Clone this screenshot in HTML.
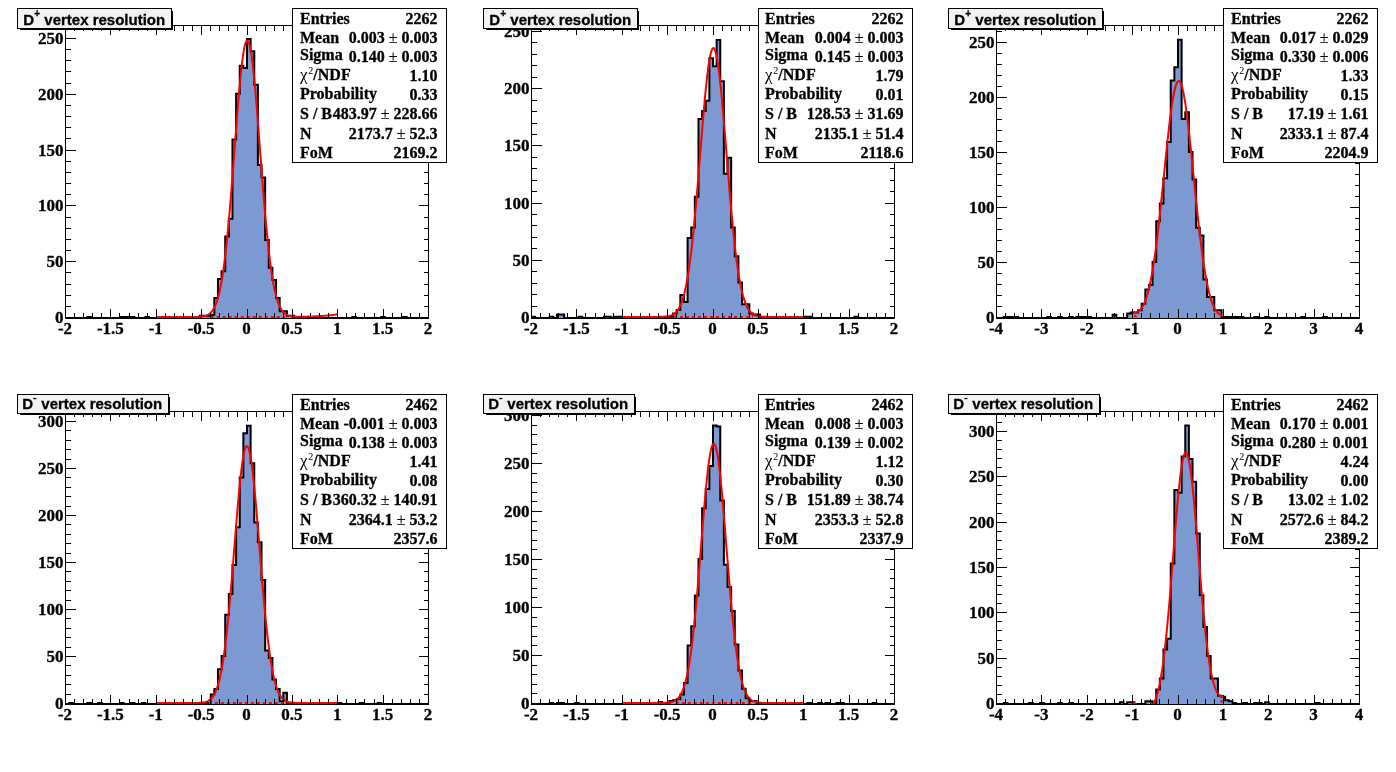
<!DOCTYPE html>
<html><head><meta charset="utf-8"><style>
html,body{margin:0;padding:0;background:#fff;width:1396px;height:772px;overflow:hidden}
svg{display:block;will-change:transform}
</style></head><body>
<svg width="1396" height="772" viewBox="0 0 1396 772">
<rect width="1396" height="772" fill="#fff"/>
<path d="M65.50,318.00 L65.50,318.00 L69.13,318.00 L69.13,318.00 L72.76,318.00 L72.76,318.00 L76.39,318.00 L76.39,318.00 L80.02,318.00 L80.02,318.00 L83.65,318.00 L83.65,318.00 L87.28,318.00 L87.28,316.88 L90.91,316.88 L90.91,318.00 L94.54,318.00 L94.54,318.00 L98.17,318.00 L98.17,318.00 L101.80,318.00 L101.80,318.00 L105.43,318.00 L105.43,318.00 L109.06,318.00 L109.06,318.00 L112.69,318.00 L112.69,318.00 L116.32,318.00 L116.32,318.00 L119.95,318.00 L119.95,316.88 L123.58,316.88 L123.58,316.88 L127.21,316.88 L127.21,316.88 L130.84,316.88 L130.84,316.88 L134.47,316.88 L134.47,318.00 L138.10,318.00 L138.10,318.00 L141.73,318.00 L141.73,318.00 L145.36,318.00 L145.36,316.88 L148.99,316.88 L148.99,318.00 L152.62,318.00 L152.62,318.00 L156.25,318.00 L156.25,318.00 L159.88,318.00 L159.88,318.00 L163.51,318.00 L163.51,318.00 L167.14,318.00 L167.14,318.00 L170.77,318.00 L170.77,318.00 L174.40,318.00 L174.40,318.00 L178.03,318.00 L178.03,318.00 L181.66,318.00 L181.66,318.00 L185.29,318.00 L185.29,316.88 L188.92,316.88 L188.92,318.00 L192.55,318.00 L192.55,318.00 L196.18,318.00 L196.18,318.00 L199.81,318.00 L199.81,315.77 L203.44,315.77 L203.44,315.77 L207.07,315.77 L207.07,315.77 L210.70,315.77 L210.70,314.65 L214.33,314.65 L214.33,297.91 L217.96,297.91 L217.96,278.94 L221.59,278.94 L221.59,271.13 L225.22,271.13 L225.22,236.53 L228.85,236.53 L228.85,218.68 L232.48,218.68 L232.48,139.44 L236.11,139.44 L236.11,93.68 L239.74,93.68 L239.74,65.78 L243.37,65.78 L243.37,68.02 L247.00,68.02 L247.00,39.00 L250.63,39.00 L250.63,51.28 L254.26,51.28 L254.26,84.76 L257.89,84.76 L257.89,165.11 L261.52,165.11 L261.52,177.38 L265.15,177.38 L265.15,239.88 L268.78,239.88 L268.78,267.78 L272.41,267.78 L272.41,280.06 L276.04,280.06 L276.04,297.91 L279.67,297.91 L279.67,311.30 L283.30,311.30 L283.30,311.30 L286.93,311.30 L286.93,315.77 L290.56,315.77 L290.56,315.77 L294.19,315.77 L294.19,316.88 L297.82,316.88 L297.82,318.00 L301.45,318.00 L301.45,318.00 L305.08,318.00 L305.08,318.00 L308.71,318.00 L308.71,318.00 L312.34,318.00 L312.34,318.00 L315.97,318.00 L315.97,318.00 L319.60,318.00 L319.60,318.00 L323.23,318.00 L323.23,318.00 L326.86,318.00 L326.86,318.00 L330.49,318.00 L330.49,318.00 L334.12,318.00 L334.12,318.00 L337.75,318.00 L337.75,318.00 L341.38,318.00 L341.38,318.00 L345.01,318.00 L345.01,318.00 L348.64,318.00 L348.64,318.00 L352.27,318.00 L352.27,316.88 L355.90,316.88 L355.90,318.00 L359.53,318.00 L359.53,318.00 L363.16,318.00 L363.16,318.00 L366.79,318.00 L366.79,318.00 L370.42,318.00 L370.42,318.00 L374.05,318.00 L374.05,318.00 L377.68,318.00 L377.68,318.00 L381.31,318.00 L381.31,316.88 L384.94,316.88 L384.94,318.00 L388.57,318.00 L388.57,318.00 L392.20,318.00 L392.20,318.00 L395.83,318.00 L395.83,318.00 L399.46,318.00 L399.46,318.00 L403.09,318.00 L403.09,316.88 L406.72,316.88 L406.72,318.00 L410.35,318.00 L410.35,318.00 L413.98,318.00 L413.98,318.00 L417.61,318.00 L417.61,318.00 L421.24,318.00 L421.24,318.00 L424.87,318.00 L424.87,318.00 L428.50,318.00 L428.50,318.00 Z" fill="#7d99d1" stroke="none"/>
<path d="M65.50,318.00 L69.13,318.00 L69.13,318.00 L72.76,318.00 L72.76,318.00 L76.39,318.00 L76.39,318.00 L80.02,318.00 L80.02,318.00 L83.65,318.00 L83.65,318.00 L87.28,318.00 L87.28,316.88 L90.91,316.88 L90.91,318.00 L94.54,318.00 L94.54,318.00 L98.17,318.00 L98.17,318.00 L101.80,318.00 L101.80,318.00 L105.43,318.00 L105.43,318.00 L109.06,318.00 L109.06,318.00 L112.69,318.00 L112.69,318.00 L116.32,318.00 L116.32,318.00 L119.95,318.00 L119.95,316.88 L123.58,316.88 L123.58,316.88 L127.21,316.88 L127.21,316.88 L130.84,316.88 L130.84,316.88 L134.47,316.88 L134.47,318.00 L138.10,318.00 L138.10,318.00 L141.73,318.00 L141.73,318.00 L145.36,318.00 L145.36,316.88 L148.99,316.88 L148.99,318.00 L152.62,318.00 L152.62,318.00 L156.25,318.00 L156.25,318.00 L159.88,318.00 L159.88,318.00 L163.51,318.00 L163.51,318.00 L167.14,318.00 L167.14,318.00 L170.77,318.00 L170.77,318.00 L174.40,318.00 L174.40,318.00 L178.03,318.00 L178.03,318.00 L181.66,318.00 L181.66,318.00 L185.29,318.00 L185.29,316.88 L188.92,316.88 L188.92,318.00 L192.55,318.00 L192.55,318.00 L196.18,318.00 L196.18,318.00 L199.81,318.00 L199.81,315.77 L203.44,315.77 L203.44,315.77 L207.07,315.77 L207.07,315.77 L210.70,315.77 L210.70,314.65 L214.33,314.65 L214.33,297.91 L217.96,297.91 L217.96,278.94 L221.59,278.94 L221.59,271.13 L225.22,271.13 L225.22,236.53 L228.85,236.53 L228.85,218.68 L232.48,218.68 L232.48,139.44 L236.11,139.44 L236.11,93.68 L239.74,93.68 L239.74,65.78 L243.37,65.78 L243.37,68.02 L247.00,68.02 L247.00,39.00 L250.63,39.00 L250.63,51.28 L254.26,51.28 L254.26,84.76 L257.89,84.76 L257.89,165.11 L261.52,165.11 L261.52,177.38 L265.15,177.38 L265.15,239.88 L268.78,239.88 L268.78,267.78 L272.41,267.78 L272.41,280.06 L276.04,280.06 L276.04,297.91 L279.67,297.91 L279.67,311.30 L283.30,311.30 L283.30,311.30 L286.93,311.30 L286.93,315.77 L290.56,315.77 L290.56,315.77 L294.19,315.77 L294.19,316.88 L297.82,316.88 L297.82,318.00 L301.45,318.00 L301.45,318.00 L305.08,318.00 L305.08,318.00 L308.71,318.00 L308.71,318.00 L312.34,318.00 L312.34,318.00 L315.97,318.00 L315.97,318.00 L319.60,318.00 L319.60,318.00 L323.23,318.00 L323.23,318.00 L326.86,318.00 L326.86,318.00 L330.49,318.00 L330.49,318.00 L334.12,318.00 L334.12,318.00 L337.75,318.00 L337.75,318.00 L341.38,318.00 L341.38,318.00 L345.01,318.00 L345.01,318.00 L348.64,318.00 L348.64,318.00 L352.27,318.00 L352.27,316.88 L355.90,316.88 L355.90,318.00 L359.53,318.00 L359.53,318.00 L363.16,318.00 L363.16,318.00 L366.79,318.00 L366.79,318.00 L370.42,318.00 L370.42,318.00 L374.05,318.00 L374.05,318.00 L377.68,318.00 L377.68,318.00 L381.31,318.00 L381.31,316.88 L384.94,316.88 L384.94,318.00 L388.57,318.00 L388.57,318.00 L392.20,318.00 L392.20,318.00 L395.83,318.00 L395.83,318.00 L399.46,318.00 L399.46,318.00 L403.09,318.00 L403.09,316.88 L406.72,316.88 L406.72,318.00 L410.35,318.00 L410.35,318.00 L413.98,318.00 L413.98,318.00 L417.61,318.00 L417.61,318.00 L421.24,318.00 L421.24,318.00 L424.87,318.00 L424.87,318.00 L428.50,318.00" fill="none" stroke="#000" stroke-width="2" stroke-linejoin="miter"/>
<clipPath id="c2"><rect x="65" y="25" width="364" height="293"/></clipPath>
<path d="M156.25,317.05 L156.86,317.05 L157.46,317.05 L158.06,317.05 L158.67,317.05 L159.27,317.05 L159.88,317.05 L160.49,317.05 L161.09,317.05 L161.69,317.05 L162.30,317.05 L162.90,317.05 L163.51,317.05 L164.12,317.05 L164.72,317.05 L165.32,317.05 L165.93,317.05 L166.53,317.05 L167.14,317.05 L167.75,317.05 L168.35,317.05 L168.96,317.05 L169.56,317.05 L170.16,317.05 L170.77,317.05 L171.38,317.05 L171.98,317.05 L172.58,317.05 L173.19,317.05 L173.80,317.05 L174.40,317.05 L175.00,317.05 L175.61,317.05 L176.22,317.05 L176.82,317.05 L177.43,317.05 L178.03,317.05 L178.63,317.05 L179.24,317.05 L179.84,317.05 L180.45,317.05 L181.06,317.05 L181.66,317.05 L182.26,317.05 L182.87,317.05 L183.48,317.05 L184.08,317.05 L184.69,317.05 L185.29,317.05 L185.89,317.05 L186.50,317.05 L187.11,317.05 L187.71,317.05 L188.31,317.05 L188.92,317.05 L189.53,317.04 L190.13,317.04 L190.73,317.04 L191.34,317.04 L191.94,317.03 L192.55,317.03 L193.16,317.02 L193.76,317.01 L194.36,317.01 L194.97,317.00 L195.57,316.98 L196.18,316.97 L196.78,316.95 L197.39,316.93 L198.00,316.90 L198.60,316.87 L199.21,316.84 L199.81,316.80 L200.42,316.75 L201.02,316.69 L201.62,316.62 L202.23,316.54 L202.83,316.44 L203.44,316.33 L204.04,316.21 L204.65,316.06 L205.25,315.89 L205.86,315.69 L206.47,315.46 L207.07,315.20 L207.68,314.90 L208.28,314.56 L208.89,314.17 L209.49,313.73 L210.09,313.23 L210.70,312.66 L211.31,312.03 L211.91,311.31 L212.52,310.50 L213.12,309.60 L213.72,308.59 L214.33,307.46 L214.93,306.21 L215.54,304.83 L216.15,303.30 L216.75,301.62 L217.35,299.77 L217.96,297.74 L218.56,295.52 L219.17,293.10 L219.78,290.47 L220.38,287.62 L220.99,284.54 L221.59,281.21 L222.19,277.63 L222.80,273.80 L223.41,269.70 L224.01,265.32 L224.62,260.67 L225.22,255.75 L225.82,250.54 L226.43,245.05 L227.03,239.29 L227.64,233.26 L228.25,226.96 L228.85,220.41 L229.45,213.62 L230.06,206.61 L230.66,199.38 L231.27,191.96 L231.88,184.38 L232.48,176.66 L233.09,168.82 L233.69,160.91 L234.29,152.94 L234.90,144.95 L235.50,136.99 L236.11,129.08 L236.72,121.27 L237.32,113.60 L237.92,106.11 L238.53,98.83 L239.13,91.82 L239.74,85.11 L240.34,78.74 L240.95,72.75 L241.56,67.17 L242.16,62.05 L242.77,57.41 L243.37,53.28 L243.98,49.70 L244.58,46.68 L245.19,44.25 L245.79,42.42 L246.39,41.20 L247.00,40.61 L247.61,40.64 L248.21,41.30 L248.81,42.57 L249.42,44.47 L250.02,46.96 L250.63,50.03 L251.24,53.67 L251.84,57.85 L252.44,62.54 L253.05,67.71 L253.66,73.32 L254.26,79.35 L254.87,85.76 L255.47,92.50 L256.08,99.54 L256.68,106.84 L257.28,114.35 L257.89,122.04 L258.50,129.86 L259.10,137.77 L259.70,145.74 L260.31,153.72 L260.91,161.69 L261.52,169.60 L262.12,177.42 L262.73,185.13 L263.33,192.70 L263.94,200.10 L264.55,207.30 L265.15,214.30 L265.75,221.06 L266.36,227.59 L266.96,233.86 L267.57,239.86 L268.18,245.59 L268.78,251.05 L269.38,256.23 L269.99,261.13 L270.59,265.75 L271.20,270.09 L271.81,274.16 L272.41,277.97 L273.01,281.52 L273.62,284.82 L274.23,287.88 L274.83,290.71 L275.44,293.31 L276.04,295.71 L276.64,297.91 L277.25,299.92 L277.86,301.75 L278.46,303.41 L279.07,304.92 L279.67,306.29 L280.27,307.52 L280.88,308.63 L281.49,309.62 L282.09,310.52 L282.70,311.31 L283.30,312.02 L283.90,312.64 L284.51,313.20 L285.12,313.69 L285.72,314.12 L286.33,314.50 L286.93,314.84 L287.53,315.12 L288.14,315.38 L288.75,315.60 L289.35,315.79 L289.96,315.95 L290.56,316.09 L291.16,316.21 L291.77,316.31 L292.38,316.40 L292.98,316.47 L293.59,316.53 L294.19,316.58 L294.79,316.62 L295.40,316.65 L296.00,316.68 L296.61,316.70 L297.22,316.72 L297.82,316.73 L298.42,316.74 L299.03,316.74 L299.63,316.74 L300.24,316.74 L300.85,316.74 L301.45,316.73 L302.05,316.73 L302.66,316.72 L303.26,316.71 L303.87,316.70 L304.48,316.69 L305.08,316.68 L305.68,316.66 L306.29,316.65 L306.89,316.63 L307.50,316.62 L308.11,316.60 L308.71,316.58 L309.31,316.56 L309.92,316.55 L310.52,316.53 L311.13,316.50 L311.74,316.48 L312.34,316.46 L312.94,316.44 L313.55,316.41 L314.16,316.39 L314.76,316.36 L315.37,316.34 L315.97,316.31 L316.57,316.28 L317.18,316.25 L317.79,316.22 L318.39,316.19 L319.00,316.15 L319.60,316.12 L320.20,316.08 L320.81,316.05 L321.42,316.01 L322.02,315.97 L322.62,315.93 L323.23,315.89 L323.83,315.85 L324.44,315.80 L325.05,315.76 L325.65,315.71 L326.25,315.66 L326.86,315.61 L327.47,315.56 L328.07,315.51 L328.68,315.45 L329.28,315.39 L329.88,315.33 L330.49,315.27 L331.10,315.21 L331.70,315.15 L332.31,315.08 L332.91,315.01 L333.51,314.94 L334.12,314.87 L334.73,314.79 L335.33,314.71 L335.94,314.63 L336.54,314.55 L337.14,314.46 L337.75,314.38" fill="none" stroke="#f00" stroke-width="2" clip-path="url(#c2)"/>
<path d="M210.70,317.05 L211.94,317.05 L213.18,317.05 L214.42,317.05 L215.66,317.05 L216.90,317.05 L218.14,317.05 L219.38,317.05 L220.62,317.05 L221.86,317.05 L223.10,317.05 L224.34,317.05 L225.58,317.05 L226.82,317.05 L228.06,317.05 L229.30,317.05 L230.54,317.05 L231.78,317.05 L233.02,317.05 L234.26,317.05 L235.50,317.05 L236.75,317.05 L237.99,317.05 L239.23,317.05 L240.47,317.05 L241.71,317.05 L242.95,317.05 L244.19,317.05 L245.43,317.05 L246.67,317.05 L247.91,317.05 L249.15,317.05 L250.39,317.05 L251.63,317.05 L252.87,317.05 L254.11,317.05 L255.35,317.05 L256.59,317.05 L257.83,317.05 L259.07,317.04 L260.31,317.04 L261.55,317.04 L262.79,317.04 L264.03,317.04 L265.27,317.04 L266.51,317.04 L267.75,317.03 L268.99,317.03 L270.23,317.03 L271.47,317.03 L272.71,317.02 L273.95,317.02 L275.19,317.01 L276.43,317.01 L277.67,317.01 L278.91,317.00 L280.15,316.99 L281.39,316.99 L282.63,316.98 L283.87,316.97 L285.12,316.97" fill="none" stroke="#f00" stroke-width="2" stroke-dasharray="3,3" clip-path="url(#c2)"/>
<rect x="65.5" y="25.5" width="363" height="293" fill="none" stroke="#000" stroke-width="1" shape-rendering="crispEdges"/>
<path d="M65.5,318.0 V309.0 M65.5,25.0 V35.0 M74.5,318.0 V313.0 M74.5,25.0 V31.0 M83.5,318.0 V313.0 M83.5,25.0 V31.0 M92.5,318.0 V313.0 M92.5,25.0 V31.0 M101.5,318.0 V313.0 M101.5,25.0 V31.0 M110.5,318.0 V309.0 M110.5,25.0 V35.0 M119.5,318.0 V313.0 M119.5,25.0 V31.0 M129.5,318.0 V313.0 M129.5,25.0 V31.0 M138.5,318.0 V313.0 M138.5,25.0 V31.0 M147.5,318.0 V313.0 M147.5,25.0 V31.0 M156.5,318.0 V309.0 M156.5,25.0 V35.0 M165.5,318.0 V313.0 M165.5,25.0 V31.0 M174.5,318.0 V313.0 M174.5,25.0 V31.0 M183.5,318.0 V313.0 M183.5,25.0 V31.0 M192.5,318.0 V313.0 M192.5,25.0 V31.0 M201.5,318.0 V309.0 M201.5,25.0 V35.0 M210.5,318.0 V313.0 M210.5,25.0 V31.0 M219.5,318.0 V313.0 M219.5,25.0 V31.0 M228.5,318.0 V313.0 M228.5,25.0 V31.0 M237.5,318.0 V313.0 M237.5,25.0 V31.0 M247.5,318.0 V309.0 M247.5,25.0 V35.0 M256.5,318.0 V313.0 M256.5,25.0 V31.0 M265.5,318.0 V313.0 M265.5,25.0 V31.0 M274.5,318.0 V313.0 M274.5,25.0 V31.0 M283.5,318.0 V313.0 M283.5,25.0 V31.0 M292.5,318.0 V309.0 M292.5,25.0 V35.0 M301.5,318.0 V313.0 M301.5,25.0 V31.0 M310.5,318.0 V313.0 M310.5,25.0 V31.0 M319.5,318.0 V313.0 M319.5,25.0 V31.0 M328.5,318.0 V313.0 M328.5,25.0 V31.0 M337.5,318.0 V309.0 M337.5,25.0 V35.0 M346.5,318.0 V313.0 M346.5,25.0 V31.0 M355.5,318.0 V313.0 M355.5,25.0 V31.0 M364.5,318.0 V313.0 M364.5,25.0 V31.0 M374.5,318.0 V313.0 M374.5,25.0 V31.0 M383.5,318.0 V309.0 M383.5,25.0 V35.0 M392.5,318.0 V313.0 M392.5,25.0 V31.0 M401.5,318.0 V313.0 M401.5,25.0 V31.0 M410.5,318.0 V313.0 M410.5,25.0 V31.0 M419.5,318.0 V313.0 M419.5,25.0 V31.0 M428.5,318.0 V309.0 M428.5,25.0 V35.0 M65.5,317.5 H75.5 M428.5,317.5 H418.5 M65.5,306.5 H70.5 M428.5,306.5 H423.5 M65.5,295.5 H70.5 M428.5,295.5 H423.5 M65.5,284.5 H70.5 M428.5,284.5 H423.5 M65.5,272.5 H70.5 M428.5,272.5 H423.5 M65.5,261.5 H75.5 M428.5,261.5 H418.5 M65.5,250.5 H70.5 M428.5,250.5 H423.5 M65.5,239.5 H70.5 M428.5,239.5 H423.5 M65.5,228.5 H70.5 M428.5,228.5 H423.5 M65.5,217.5 H70.5 M428.5,217.5 H423.5 M65.5,205.5 H75.5 M428.5,205.5 H418.5 M65.5,194.5 H70.5 M428.5,194.5 H423.5 M65.5,183.5 H70.5 M428.5,183.5 H423.5 M65.5,172.5 H70.5 M428.5,172.5 H423.5 M65.5,161.5 H70.5 M428.5,161.5 H423.5 M65.5,150.5 H75.5 M428.5,150.5 H418.5 M65.5,138.5 H70.5 M428.5,138.5 H423.5 M65.5,127.5 H70.5 M428.5,127.5 H423.5 M65.5,116.5 H70.5 M428.5,116.5 H423.5 M65.5,105.5 H70.5 M428.5,105.5 H423.5 M65.5,94.5 H75.5 M428.5,94.5 H418.5 M65.5,83.5 H70.5 M428.5,83.5 H423.5 M65.5,71.5 H70.5 M428.5,71.5 H423.5 M65.5,60.5 H70.5 M428.5,60.5 H423.5 M65.5,49.5 H70.5 M428.5,49.5 H423.5 M65.5,38.5 H75.5 M428.5,38.5 H418.5 M65.5,27.5 H70.5 M428.5,27.5 H423.5" stroke="#000" stroke-width="1" fill="none" shape-rendering="crispEdges"/>
<g font-family='"Liberation Serif", serif' font-weight="bold" font-size="17" fill="#000" stroke="#000" stroke-width="0.3"><text x="65.0" y="334.0" text-anchor="middle">-2</text><text x="110.4" y="334.0" text-anchor="middle">-1.5</text><text x="155.8" y="334.0" text-anchor="middle">-1</text><text x="201.1" y="334.0" text-anchor="middle">-0.5</text><text x="246.5" y="334.0" text-anchor="middle">0</text><text x="291.9" y="334.0" text-anchor="middle">0.5</text><text x="337.2" y="334.0" text-anchor="middle">1</text><text x="382.6" y="334.0" text-anchor="middle">1.5</text><text x="428.0" y="334.0" text-anchor="middle">2</text><text x="63.5" y="322.8" text-anchor="end">0</text><text x="63.5" y="266.8" text-anchor="end">50</text><text x="63.5" y="210.8" text-anchor="end">100</text><text x="63.5" y="155.8" text-anchor="end">150</text><text x="63.5" y="99.8" text-anchor="end">200</text><text x="63.5" y="43.8" text-anchor="end">250</text></g>
<path d="M20,11 H173 V30 H20 Z" fill="#000" shape-rendering="crispEdges"/>
<rect x="17.5" y="8.5" width="154" height="20" fill="#f2f2f2" stroke="#000" stroke-width="1" shape-rendering="crispEdges"/>
<text x="23.3" y="25" font-family='"Liberation Sans", sans-serif' font-weight="bold" font-size="15" stroke="#000" stroke-width="0.3">D<tspan font-size="10" dy="-8">+</tspan><tspan dy="8" x="44.3">vertex resolution</tspan></text>
<rect x="292.5" y="8.5" width="154" height="154" fill="#fff" stroke="#000" stroke-width="1" shape-rendering="crispEdges"/>
<g font-family='"Liberation Serif", serif' font-weight="bold" font-size="16" fill="#000" stroke="#000" stroke-width="0.3"><text x="300.0" y="23.6">Entries</text><text x="437.5" y="23.6" text-anchor="end">2262</text><text x="300.0" y="42.8">Mean</text><text x="437.5" y="42.8" text-anchor="end">0.003 <tspan font-weight='normal' stroke-width='0.15'>&#177;</tspan> 0.003</text><text x="300.0" y="59.9">Sigma</text><text x="437.5" y="61.9" text-anchor="end">0.140 <tspan font-weight='normal' stroke-width='0.15'>&#177;</tspan> 0.003</text><text x="300.0" y="79.8"><tspan font-weight='normal' stroke='none' font-size='17'>&#967;</tspan><tspan font-weight='normal' stroke='none' font-size='10' dx='0.8' dy='-6'>2</tspan><tspan dy='6'>/NDF</tspan></text><text x="437.5" y="81.0" text-anchor="end">1.10</text><text x="300.0" y="98.9">Probability</text><text x="437.5" y="100.2" text-anchor="end">0.33</text><text x="300.0" y="119.3">S / B</text><text x="437.5" y="119.3" text-anchor="end">483.97 <tspan font-weight='normal' stroke-width='0.15'>&#177;</tspan> 228.66</text><text x="300.0" y="138.5">N</text><text x="437.5" y="138.5" text-anchor="end">2173.7 <tspan font-weight='normal' stroke-width='0.15'>&#177;</tspan> 52.3</text><text x="300.0" y="157.6">FoM</text><text x="437.5" y="157.6" text-anchor="end">2169.2</text></g>
<path d="M531.50,318.00 L531.50,316.86 L535.13,316.86 L535.13,318.00 L538.76,318.00 L538.76,318.00 L542.39,318.00 L542.39,318.00 L546.02,318.00 L546.02,318.00 L549.65,318.00 L549.65,316.86 L553.28,316.86 L553.28,318.00 L556.91,318.00 L556.91,314.57 L560.54,314.57 L560.54,314.57 L564.17,314.57 L564.17,318.00 L567.80,318.00 L567.80,318.00 L571.43,318.00 L571.43,318.00 L575.06,318.00 L575.06,318.00 L578.69,318.00 L578.69,316.86 L582.32,316.86 L582.32,318.00 L585.95,318.00 L585.95,318.00 L589.58,318.00 L589.58,318.00 L593.21,318.00 L593.21,318.00 L596.84,318.00 L596.84,318.00 L600.47,318.00 L600.47,318.00 L604.10,318.00 L604.10,316.86 L607.73,316.86 L607.73,316.86 L611.36,316.86 L611.36,318.00 L614.99,318.00 L614.99,316.86 L618.62,316.86 L618.62,316.86 L622.25,316.86 L622.25,318.00 L625.88,318.00 L625.88,318.00 L629.51,318.00 L629.51,318.00 L633.14,318.00 L633.14,318.00 L636.77,318.00 L636.77,318.00 L640.40,318.00 L640.40,318.00 L644.03,318.00 L644.03,318.00 L647.66,318.00 L647.66,318.00 L651.29,318.00 L651.29,318.00 L654.92,318.00 L654.92,318.00 L658.55,318.00 L658.55,318.00 L662.18,318.00 L662.18,318.00 L665.81,318.00 L665.81,316.86 L669.44,316.86 L669.44,316.86 L673.07,316.86 L673.07,313.42 L676.70,313.42 L676.70,309.99 L680.33,309.99 L680.33,295.12 L683.96,295.12 L683.96,301.98 L687.59,301.98 L687.59,237.92 L691.22,237.92 L691.22,227.62 L694.85,227.62 L694.85,196.74 L698.48,196.74 L698.48,118.94 L702.11,118.94 L702.11,110.94 L705.74,110.94 L705.74,100.64 L709.37,100.64 L709.37,58.31 L713.00,58.31 L713.00,66.32 L716.63,66.32 L716.63,40.01 L720.26,40.01 L720.26,81.19 L723.89,81.19 L723.89,173.86 L727.52,173.86 L727.52,157.84 L731.15,157.84 L731.15,227.62 L734.78,227.62 L734.78,256.22 L738.41,256.22 L738.41,282.54 L742.04,282.54 L742.04,304.27 L745.67,304.27 L745.67,304.27 L749.30,304.27 L749.30,313.42 L752.93,313.42 L752.93,314.57 L756.56,314.57 L756.56,314.57 L760.19,314.57 L760.19,318.00 L763.82,318.00 L763.82,318.00 L767.45,318.00 L767.45,318.00 L771.08,318.00 L771.08,318.00 L774.71,318.00 L774.71,318.00 L778.34,318.00 L778.34,318.00 L781.97,318.00 L781.97,318.00 L785.60,318.00 L785.60,318.00 L789.23,318.00 L789.23,318.00 L792.86,318.00 L792.86,318.00 L796.49,318.00 L796.49,318.00 L800.12,318.00 L800.12,318.00 L803.75,318.00 L803.75,316.86 L807.38,316.86 L807.38,316.86 L811.01,316.86 L811.01,318.00 L814.64,318.00 L814.64,318.00 L818.27,318.00 L818.27,318.00 L821.90,318.00 L821.90,318.00 L825.53,318.00 L825.53,318.00 L829.16,318.00 L829.16,318.00 L832.79,318.00 L832.79,318.00 L836.42,318.00 L836.42,318.00 L840.05,318.00 L840.05,318.00 L843.68,318.00 L843.68,318.00 L847.31,318.00 L847.31,318.00 L850.94,318.00 L850.94,318.00 L854.57,318.00 L854.57,316.86 L858.20,316.86 L858.20,318.00 L861.83,318.00 L861.83,318.00 L865.46,318.00 L865.46,318.00 L869.09,318.00 L869.09,318.00 L872.72,318.00 L872.72,318.00 L876.35,318.00 L876.35,318.00 L879.98,318.00 L879.98,318.00 L883.61,318.00 L883.61,318.00 L887.24,318.00 L887.24,318.00 L890.87,318.00 L890.87,318.00 L894.50,318.00 L894.50,318.00 Z" fill="#7d99d1" stroke="none"/>
<path d="M531.50,316.86 L535.13,316.86 L535.13,318.00 L538.76,318.00 L538.76,318.00 L542.39,318.00 L542.39,318.00 L546.02,318.00 L546.02,318.00 L549.65,318.00 L549.65,316.86 L553.28,316.86 L553.28,318.00 L556.91,318.00 L556.91,314.57 L560.54,314.57 L560.54,314.57 L564.17,314.57 L564.17,318.00 L567.80,318.00 L567.80,318.00 L571.43,318.00 L571.43,318.00 L575.06,318.00 L575.06,318.00 L578.69,318.00 L578.69,316.86 L582.32,316.86 L582.32,318.00 L585.95,318.00 L585.95,318.00 L589.58,318.00 L589.58,318.00 L593.21,318.00 L593.21,318.00 L596.84,318.00 L596.84,318.00 L600.47,318.00 L600.47,318.00 L604.10,318.00 L604.10,316.86 L607.73,316.86 L607.73,316.86 L611.36,316.86 L611.36,318.00 L614.99,318.00 L614.99,316.86 L618.62,316.86 L618.62,316.86 L622.25,316.86 L622.25,318.00 L625.88,318.00 L625.88,318.00 L629.51,318.00 L629.51,318.00 L633.14,318.00 L633.14,318.00 L636.77,318.00 L636.77,318.00 L640.40,318.00 L640.40,318.00 L644.03,318.00 L644.03,318.00 L647.66,318.00 L647.66,318.00 L651.29,318.00 L651.29,318.00 L654.92,318.00 L654.92,318.00 L658.55,318.00 L658.55,318.00 L662.18,318.00 L662.18,318.00 L665.81,318.00 L665.81,316.86 L669.44,316.86 L669.44,316.86 L673.07,316.86 L673.07,313.42 L676.70,313.42 L676.70,309.99 L680.33,309.99 L680.33,295.12 L683.96,295.12 L683.96,301.98 L687.59,301.98 L687.59,237.92 L691.22,237.92 L691.22,227.62 L694.85,227.62 L694.85,196.74 L698.48,196.74 L698.48,118.94 L702.11,118.94 L702.11,110.94 L705.74,110.94 L705.74,100.64 L709.37,100.64 L709.37,58.31 L713.00,58.31 L713.00,66.32 L716.63,66.32 L716.63,40.01 L720.26,40.01 L720.26,81.19 L723.89,81.19 L723.89,173.86 L727.52,173.86 L727.52,157.84 L731.15,157.84 L731.15,227.62 L734.78,227.62 L734.78,256.22 L738.41,256.22 L738.41,282.54 L742.04,282.54 L742.04,304.27 L745.67,304.27 L745.67,304.27 L749.30,304.27 L749.30,313.42 L752.93,313.42 L752.93,314.57 L756.56,314.57 L756.56,314.57 L760.19,314.57 L760.19,318.00 L763.82,318.00 L763.82,318.00 L767.45,318.00 L767.45,318.00 L771.08,318.00 L771.08,318.00 L774.71,318.00 L774.71,318.00 L778.34,318.00 L778.34,318.00 L781.97,318.00 L781.97,318.00 L785.60,318.00 L785.60,318.00 L789.23,318.00 L789.23,318.00 L792.86,318.00 L792.86,318.00 L796.49,318.00 L796.49,318.00 L800.12,318.00 L800.12,318.00 L803.75,318.00 L803.75,316.86 L807.38,316.86 L807.38,316.86 L811.01,316.86 L811.01,318.00 L814.64,318.00 L814.64,318.00 L818.27,318.00 L818.27,318.00 L821.90,318.00 L821.90,318.00 L825.53,318.00 L825.53,318.00 L829.16,318.00 L829.16,318.00 L832.79,318.00 L832.79,318.00 L836.42,318.00 L836.42,318.00 L840.05,318.00 L840.05,318.00 L843.68,318.00 L843.68,318.00 L847.31,318.00 L847.31,318.00 L850.94,318.00 L850.94,318.00 L854.57,318.00 L854.57,316.86 L858.20,316.86 L858.20,318.00 L861.83,318.00 L861.83,318.00 L865.46,318.00 L865.46,318.00 L869.09,318.00 L869.09,318.00 L872.72,318.00 L872.72,318.00 L876.35,318.00 L876.35,318.00 L879.98,318.00 L879.98,318.00 L883.61,318.00 L883.61,318.00 L887.24,318.00 L887.24,318.00 L890.87,318.00 L890.87,318.00 L894.50,318.00" fill="none" stroke="#000" stroke-width="2" stroke-linejoin="miter"/>
<clipPath id="c15"><rect x="531" y="25" width="364" height="293"/></clipPath>
<path d="M622.25,316.93 L622.86,316.93 L623.46,316.93 L624.07,316.93 L624.67,316.93 L625.27,316.93 L625.88,316.93 L626.49,316.93 L627.09,316.93 L627.70,316.93 L628.30,316.93 L628.90,316.93 L629.51,316.93 L630.12,316.93 L630.72,316.93 L631.33,316.93 L631.93,316.93 L632.53,316.93 L633.14,316.93 L633.75,316.93 L634.35,316.93 L634.96,316.93 L635.56,316.93 L636.16,316.93 L636.77,316.93 L637.38,316.93 L637.98,316.93 L638.59,316.93 L639.19,316.93 L639.79,316.93 L640.40,316.93 L641.00,316.93 L641.61,316.93 L642.22,316.93 L642.82,316.93 L643.42,316.93 L644.03,316.93 L644.63,316.93 L645.24,316.93 L645.85,316.93 L646.45,316.93 L647.06,316.93 L647.66,316.93 L648.26,316.93 L648.87,316.93 L649.48,316.93 L650.08,316.93 L650.69,316.92 L651.29,316.92 L651.89,316.92 L652.50,316.92 L653.11,316.92 L653.71,316.92 L654.32,316.92 L654.92,316.91 L655.52,316.91 L656.13,316.91 L656.74,316.90 L657.34,316.90 L657.94,316.89 L658.55,316.88 L659.15,316.87 L659.76,316.86 L660.37,316.85 L660.97,316.83 L661.58,316.81 L662.18,316.79 L662.78,316.76 L663.39,316.73 L664.00,316.69 L664.60,316.65 L665.21,316.60 L665.81,316.54 L666.41,316.47 L667.02,316.38 L667.62,316.29 L668.23,316.18 L668.84,316.05 L669.44,315.90 L670.04,315.74 L670.65,315.54 L671.25,315.32 L671.86,315.07 L672.47,314.78 L673.07,314.45 L673.67,314.08 L674.28,313.66 L674.88,313.19 L675.49,312.66 L676.10,312.06 L676.70,311.39 L677.31,310.63 L677.91,309.80 L678.51,308.86 L679.12,307.83 L679.73,306.68 L680.33,305.42 L680.93,304.03 L681.54,302.49 L682.14,300.81 L682.75,298.97 L683.36,296.97 L683.96,294.78 L684.57,292.41 L685.17,289.85 L685.77,287.08 L686.38,284.09 L686.99,280.88 L687.59,277.44 L688.19,273.77 L688.80,269.85 L689.40,265.69 L690.01,261.27 L690.62,256.60 L691.22,251.68 L691.83,246.51 L692.43,241.08 L693.03,235.42 L693.64,229.51 L694.25,223.37 L694.85,217.01 L695.45,210.45 L696.06,203.69 L696.66,196.76 L697.27,189.68 L697.88,182.46 L698.48,175.13 L699.09,167.72 L699.69,160.25 L700.29,152.76 L700.90,145.27 L701.50,137.82 L702.11,130.44 L702.72,123.17 L703.32,116.04 L703.92,109.08 L704.53,102.34 L705.13,95.85 L705.74,89.64 L706.35,83.75 L706.95,78.22 L707.56,73.07 L708.16,68.33 L708.76,64.04 L709.37,60.21 L709.98,56.88 L710.58,54.06 L711.18,51.77 L711.79,50.03 L712.39,48.84 L713.00,48.22 L713.61,48.16 L714.21,48.67 L714.82,49.75 L715.42,51.38 L716.02,53.56 L716.63,56.28 L717.24,59.51 L717.84,63.23 L718.44,67.44 L719.05,72.09 L719.65,77.16 L720.26,82.62 L720.87,88.44 L721.47,94.58 L722.08,101.02 L722.68,107.72 L723.28,114.63 L723.89,121.73 L724.50,128.98 L725.10,136.34 L725.70,143.78 L726.31,151.26 L726.91,158.76 L727.52,166.23 L728.12,173.66 L728.73,181.00 L729.34,188.24 L729.94,195.36 L730.55,202.32 L731.15,209.11 L731.75,215.72 L732.36,222.12 L732.96,228.30 L733.57,234.25 L734.17,239.97 L734.78,245.44 L735.38,250.67 L735.99,255.64 L736.60,260.36 L737.20,264.82 L737.81,269.04 L738.41,273.00 L739.01,276.73 L739.62,280.21 L740.23,283.47 L740.83,286.50 L741.43,289.31 L742.04,291.92 L742.64,294.33 L743.25,296.55 L743.86,298.59 L744.46,300.46 L745.07,302.17 L745.67,303.73 L746.27,305.15 L746.88,306.44 L747.49,307.61 L748.09,308.67 L748.70,309.62 L749.30,310.47 L749.90,311.24 L750.51,311.93 L751.12,312.54 L751.72,313.09 L752.33,313.57 L752.93,314.00 L753.53,314.38 L754.14,314.72 L754.75,315.01 L755.35,315.27 L755.96,315.50 L756.56,315.70 L757.16,315.87 L757.77,316.02 L758.38,316.15 L758.98,316.27 L759.59,316.37 L760.19,316.45 L760.79,316.52 L761.40,316.58 L762.00,316.64 L762.61,316.68 L763.22,316.72 L763.82,316.76 L764.42,316.78 L765.03,316.81 L765.63,316.83 L766.24,316.84 L766.85,316.86 L767.45,316.87 L768.05,316.88 L768.66,316.89 L769.26,316.90 L769.87,316.90 L770.48,316.91 L771.08,316.91 L771.68,316.91 L772.29,316.92 L772.89,316.92 L773.50,316.92 L774.11,316.92 L774.71,316.92 L775.32,316.92 L775.92,316.92 L776.52,316.93 L777.13,316.93 L777.74,316.93 L778.34,316.93 L778.94,316.93 L779.55,316.93 L780.15,316.93 L780.76,316.93 L781.37,316.93 L781.97,316.93 L782.58,316.93 L783.18,316.93 L783.79,316.93 L784.39,316.93 L785.00,316.93 L785.60,316.93 L786.20,316.93 L786.81,316.93 L787.41,316.93 L788.02,316.93 L788.62,316.93 L789.23,316.93 L789.84,316.93 L790.44,316.93 L791.05,316.93 L791.65,316.93 L792.25,316.93 L792.86,316.93 L793.47,316.93 L794.07,316.93 L794.67,316.93 L795.28,316.93 L795.88,316.93 L796.49,316.93 L797.10,316.93 L797.70,316.93 L798.31,316.93 L798.91,316.93 L799.51,316.93 L800.12,316.93 L800.73,316.93 L801.33,316.93 L801.93,316.93 L802.54,316.93 L803.14,316.93 L803.75,316.93" fill="none" stroke="#f00" stroke-width="2" clip-path="url(#c15)"/>
<path d="M673.98,316.93 L675.29,316.93 L676.61,316.93 L677.93,316.93 L679.24,316.93 L680.56,316.93 L681.87,316.93 L683.19,316.93 L684.50,316.93 L685.82,316.93 L687.14,316.93 L688.45,316.93 L689.77,316.93 L691.08,316.93 L692.40,316.93 L693.72,316.93 L695.03,316.93 L696.35,316.93 L697.66,316.93 L698.98,316.93 L700.29,316.93 L701.61,316.93 L702.93,316.93 L704.24,316.93 L705.56,316.93 L706.87,316.93 L708.19,316.93 L709.51,316.93 L710.82,316.93 L712.14,316.93 L713.45,316.93 L714.77,316.93 L716.09,316.93 L717.40,316.93 L718.72,316.93 L720.03,316.93 L721.35,316.93 L722.66,316.93 L723.98,316.93 L725.30,316.93 L726.61,316.93 L727.93,316.93 L729.24,316.93 L730.56,316.93 L731.88,316.93 L733.19,316.93 L734.51,316.93 L735.82,316.93 L737.14,316.93 L738.46,316.93 L739.77,316.93 L741.09,316.93 L742.40,316.93 L743.72,316.93 L745.03,316.93 L746.35,316.93 L747.67,316.93 L748.98,316.93 L750.30,316.93 L751.61,316.93 L752.93,316.93" fill="none" stroke="#f00" stroke-width="2" stroke-dasharray="3,3" clip-path="url(#c15)"/>
<rect x="531.5" y="25.5" width="363" height="293" fill="none" stroke="#000" stroke-width="1" shape-rendering="crispEdges"/>
<path d="M531.5,318.0 V309.0 M531.5,25.0 V35.0 M540.5,318.0 V313.0 M540.5,25.0 V31.0 M549.5,318.0 V313.0 M549.5,25.0 V31.0 M558.5,318.0 V313.0 M558.5,25.0 V31.0 M567.5,318.0 V313.0 M567.5,25.0 V31.0 M576.5,318.0 V309.0 M576.5,25.0 V35.0 M585.5,318.0 V313.0 M585.5,25.0 V31.0 M595.5,318.0 V313.0 M595.5,25.0 V31.0 M604.5,318.0 V313.0 M604.5,25.0 V31.0 M613.5,318.0 V313.0 M613.5,25.0 V31.0 M622.5,318.0 V309.0 M622.5,25.0 V35.0 M631.5,318.0 V313.0 M631.5,25.0 V31.0 M640.5,318.0 V313.0 M640.5,25.0 V31.0 M649.5,318.0 V313.0 M649.5,25.0 V31.0 M658.5,318.0 V313.0 M658.5,25.0 V31.0 M667.5,318.0 V309.0 M667.5,25.0 V35.0 M676.5,318.0 V313.0 M676.5,25.0 V31.0 M685.5,318.0 V313.0 M685.5,25.0 V31.0 M694.5,318.0 V313.0 M694.5,25.0 V31.0 M703.5,318.0 V313.0 M703.5,25.0 V31.0 M713.5,318.0 V309.0 M713.5,25.0 V35.0 M722.5,318.0 V313.0 M722.5,25.0 V31.0 M731.5,318.0 V313.0 M731.5,25.0 V31.0 M740.5,318.0 V313.0 M740.5,25.0 V31.0 M749.5,318.0 V313.0 M749.5,25.0 V31.0 M758.5,318.0 V309.0 M758.5,25.0 V35.0 M767.5,318.0 V313.0 M767.5,25.0 V31.0 M776.5,318.0 V313.0 M776.5,25.0 V31.0 M785.5,318.0 V313.0 M785.5,25.0 V31.0 M794.5,318.0 V313.0 M794.5,25.0 V31.0 M803.5,318.0 V309.0 M803.5,25.0 V35.0 M812.5,318.0 V313.0 M812.5,25.0 V31.0 M821.5,318.0 V313.0 M821.5,25.0 V31.0 M830.5,318.0 V313.0 M830.5,25.0 V31.0 M840.5,318.0 V313.0 M840.5,25.0 V31.0 M849.5,318.0 V309.0 M849.5,25.0 V35.0 M858.5,318.0 V313.0 M858.5,25.0 V31.0 M867.5,318.0 V313.0 M867.5,25.0 V31.0 M876.5,318.0 V313.0 M876.5,25.0 V31.0 M885.5,318.0 V313.0 M885.5,25.0 V31.0 M894.5,318.0 V309.0 M894.5,25.0 V35.0 M531.5,317.5 H541.5 M894.5,317.5 H884.5 M531.5,306.5 H536.5 M894.5,306.5 H889.5 M531.5,294.5 H536.5 M894.5,294.5 H889.5 M531.5,283.5 H536.5 M894.5,283.5 H889.5 M531.5,271.5 H536.5 M894.5,271.5 H889.5 M531.5,260.5 H541.5 M894.5,260.5 H884.5 M531.5,248.5 H536.5 M894.5,248.5 H889.5 M531.5,237.5 H536.5 M894.5,237.5 H889.5 M531.5,225.5 H536.5 M894.5,225.5 H889.5 M531.5,214.5 H536.5 M894.5,214.5 H889.5 M531.5,203.5 H541.5 M894.5,203.5 H884.5 M531.5,191.5 H536.5 M894.5,191.5 H889.5 M531.5,180.5 H536.5 M894.5,180.5 H889.5 M531.5,168.5 H536.5 M894.5,168.5 H889.5 M531.5,157.5 H536.5 M894.5,157.5 H889.5 M531.5,145.5 H541.5 M894.5,145.5 H884.5 M531.5,134.5 H536.5 M894.5,134.5 H889.5 M531.5,123.5 H536.5 M894.5,123.5 H889.5 M531.5,111.5 H536.5 M894.5,111.5 H889.5 M531.5,100.5 H536.5 M894.5,100.5 H889.5 M531.5,88.5 H541.5 M894.5,88.5 H884.5 M531.5,77.5 H536.5 M894.5,77.5 H889.5 M531.5,65.5 H536.5 M894.5,65.5 H889.5 M531.5,54.5 H536.5 M894.5,54.5 H889.5 M531.5,42.5 H536.5 M894.5,42.5 H889.5 M531.5,31.5 H541.5 M894.5,31.5 H884.5" stroke="#000" stroke-width="1" fill="none" shape-rendering="crispEdges"/>
<g font-family='"Liberation Serif", serif' font-weight="bold" font-size="17" fill="#000" stroke="#000" stroke-width="0.3"><text x="531.0" y="334.0" text-anchor="middle">-2</text><text x="576.4" y="334.0" text-anchor="middle">-1.5</text><text x="621.8" y="334.0" text-anchor="middle">-1</text><text x="667.1" y="334.0" text-anchor="middle">-0.5</text><text x="712.5" y="334.0" text-anchor="middle">0</text><text x="757.9" y="334.0" text-anchor="middle">0.5</text><text x="803.2" y="334.0" text-anchor="middle">1</text><text x="848.6" y="334.0" text-anchor="middle">1.5</text><text x="894.0" y="334.0" text-anchor="middle">2</text><text x="529.5" y="322.8" text-anchor="end">0</text><text x="529.5" y="265.8" text-anchor="end">50</text><text x="529.5" y="208.8" text-anchor="end">100</text><text x="529.5" y="150.8" text-anchor="end">150</text><text x="529.5" y="93.8" text-anchor="end">200</text><text x="529.5" y="36.8" text-anchor="end">250</text></g>
<path d="M486,11 H639 V30 H486 Z" fill="#000" shape-rendering="crispEdges"/>
<rect x="483.5" y="8.5" width="154" height="20" fill="#f2f2f2" stroke="#000" stroke-width="1" shape-rendering="crispEdges"/>
<text x="489.3" y="25" font-family='"Liberation Sans", sans-serif' font-weight="bold" font-size="15" stroke="#000" stroke-width="0.3">D<tspan font-size="10" dy="-8">+</tspan><tspan dy="8" x="510.3">vertex resolution</tspan></text>
<rect x="758.5" y="8.5" width="154" height="154" fill="#fff" stroke="#000" stroke-width="1" shape-rendering="crispEdges"/>
<g font-family='"Liberation Serif", serif' font-weight="bold" font-size="16" fill="#000" stroke="#000" stroke-width="0.3"><text x="765.0" y="23.6">Entries</text><text x="903.5" y="23.6" text-anchor="end">2262</text><text x="765.0" y="42.8">Mean</text><text x="903.5" y="42.8" text-anchor="end">0.004 <tspan font-weight='normal' stroke-width='0.15'>&#177;</tspan> 0.003</text><text x="765.0" y="59.9">Sigma</text><text x="903.5" y="61.9" text-anchor="end">0.145 <tspan font-weight='normal' stroke-width='0.15'>&#177;</tspan> 0.003</text><text x="765.0" y="79.8"><tspan font-weight='normal' stroke='none' font-size='17'>&#967;</tspan><tspan font-weight='normal' stroke='none' font-size='10' dx='0.8' dy='-6'>2</tspan><tspan dy='6'>/NDF</tspan></text><text x="903.5" y="81.0" text-anchor="end">1.79</text><text x="765.0" y="98.9">Probability</text><text x="903.5" y="100.2" text-anchor="end">0.01</text><text x="765.0" y="119.3">S / B</text><text x="903.5" y="119.3" text-anchor="end">128.53 <tspan font-weight='normal' stroke-width='0.15'>&#177;</tspan> 31.69</text><text x="765.0" y="138.5">N</text><text x="903.5" y="138.5" text-anchor="end">2135.1 <tspan font-weight='normal' stroke-width='0.15'>&#177;</tspan> 51.4</text><text x="765.0" y="157.6">FoM</text><text x="903.5" y="157.6" text-anchor="end">2118.6</text></g>
<path d="M996.50,318.00 L996.50,318.00 L1000.13,318.00 L1000.13,318.00 L1003.76,318.00 L1003.76,316.90 L1007.39,316.90 L1007.39,316.90 L1011.02,316.90 L1011.02,316.90 L1014.65,316.90 L1014.65,316.90 L1018.28,316.90 L1018.28,318.00 L1021.91,318.00 L1021.91,318.00 L1025.54,318.00 L1025.54,318.00 L1029.17,318.00 L1029.17,318.00 L1032.80,318.00 L1032.80,318.00 L1036.43,318.00 L1036.43,318.00 L1040.06,318.00 L1040.06,318.00 L1043.69,318.00 L1043.69,318.00 L1047.32,318.00 L1047.32,316.90 L1050.95,316.90 L1050.95,318.00 L1054.58,318.00 L1054.58,318.00 L1058.21,318.00 L1058.21,316.90 L1061.84,316.90 L1061.84,318.00 L1065.47,318.00 L1065.47,318.00 L1069.10,318.00 L1069.10,316.90 L1072.73,316.90 L1072.73,318.00 L1076.36,318.00 L1076.36,316.90 L1079.99,316.90 L1079.99,316.90 L1083.62,316.90 L1083.62,316.90 L1087.25,316.90 L1087.25,316.90 L1090.88,316.90 L1090.88,318.00 L1094.51,318.00 L1094.51,318.00 L1098.14,318.00 L1098.14,318.00 L1101.77,318.00 L1101.77,318.00 L1105.40,318.00 L1105.40,318.00 L1109.03,318.00 L1109.03,318.00 L1112.66,318.00 L1112.66,314.70 L1116.29,314.70 L1116.29,318.00 L1119.92,318.00 L1119.92,318.00 L1123.55,318.00 L1123.55,318.00 L1127.18,318.00 L1127.18,313.60 L1130.81,313.60 L1130.81,312.50 L1134.44,312.50 L1134.44,312.50 L1138.07,312.50 L1138.07,310.30 L1141.70,310.30 L1141.70,303.70 L1145.33,303.70 L1145.33,289.40 L1148.96,289.40 L1148.96,285.00 L1152.59,285.00 L1152.59,261.90 L1156.22,261.90 L1156.22,221.20 L1159.85,221.20 L1159.85,203.60 L1163.48,203.60 L1163.48,178.30 L1167.11,178.30 L1167.11,142.00 L1170.74,142.00 L1170.74,80.40 L1174.37,80.40 L1174.37,67.20 L1178.00,67.20 L1178.00,39.70 L1181.63,39.70 L1181.63,118.90 L1185.26,118.90 L1185.26,112.30 L1188.89,112.30 L1188.89,151.90 L1192.52,151.90 L1192.52,179.40 L1196.15,179.40 L1196.15,227.80 L1199.78,227.80 L1199.78,235.50 L1203.41,235.50 L1203.41,279.50 L1207.04,279.50 L1207.04,297.10 L1210.67,297.10 L1210.67,297.10 L1214.30,297.10 L1214.30,310.30 L1217.93,310.30 L1217.93,310.30 L1221.56,310.30 L1221.56,316.90 L1225.19,316.90 L1225.19,316.90 L1228.82,316.90 L1228.82,316.90 L1232.45,316.90 L1232.45,316.90 L1236.08,316.90 L1236.08,316.90 L1239.71,316.90 L1239.71,316.90 L1243.34,316.90 L1243.34,318.00 L1246.97,318.00 L1246.97,318.00 L1250.60,318.00 L1250.60,318.00 L1254.23,318.00 L1254.23,316.90 L1257.86,316.90 L1257.86,318.00 L1261.49,318.00 L1261.49,318.00 L1265.12,318.00 L1265.12,316.90 L1268.75,316.90 L1268.75,318.00 L1272.38,318.00 L1272.38,318.00 L1276.01,318.00 L1276.01,318.00 L1279.64,318.00 L1279.64,318.00 L1283.27,318.00 L1283.27,318.00 L1286.90,318.00 L1286.90,318.00 L1290.53,318.00 L1290.53,318.00 L1294.16,318.00 L1294.16,318.00 L1297.79,318.00 L1297.79,318.00 L1301.42,318.00 L1301.42,316.90 L1305.05,316.90 L1305.05,318.00 L1308.68,318.00 L1308.68,318.00 L1312.31,318.00 L1312.31,318.00 L1315.94,318.00 L1315.94,318.00 L1319.57,318.00 L1319.57,318.00 L1323.20,318.00 L1323.20,316.90 L1326.83,316.90 L1326.83,318.00 L1330.46,318.00 L1330.46,318.00 L1334.09,318.00 L1334.09,318.00 L1337.72,318.00 L1337.72,318.00 L1341.35,318.00 L1341.35,318.00 L1344.98,318.00 L1344.98,318.00 L1348.61,318.00 L1348.61,318.00 L1352.24,318.00 L1352.24,318.00 L1355.87,318.00 L1355.87,318.00 L1359.50,318.00 L1359.50,318.00 Z" fill="#7d99d1" stroke="none"/>
<path d="M996.50,318.00 L1000.13,318.00 L1000.13,318.00 L1003.76,318.00 L1003.76,316.90 L1007.39,316.90 L1007.39,316.90 L1011.02,316.90 L1011.02,316.90 L1014.65,316.90 L1014.65,316.90 L1018.28,316.90 L1018.28,318.00 L1021.91,318.00 L1021.91,318.00 L1025.54,318.00 L1025.54,318.00 L1029.17,318.00 L1029.17,318.00 L1032.80,318.00 L1032.80,318.00 L1036.43,318.00 L1036.43,318.00 L1040.06,318.00 L1040.06,318.00 L1043.69,318.00 L1043.69,318.00 L1047.32,318.00 L1047.32,316.90 L1050.95,316.90 L1050.95,318.00 L1054.58,318.00 L1054.58,318.00 L1058.21,318.00 L1058.21,316.90 L1061.84,316.90 L1061.84,318.00 L1065.47,318.00 L1065.47,318.00 L1069.10,318.00 L1069.10,316.90 L1072.73,316.90 L1072.73,318.00 L1076.36,318.00 L1076.36,316.90 L1079.99,316.90 L1079.99,316.90 L1083.62,316.90 L1083.62,316.90 L1087.25,316.90 L1087.25,316.90 L1090.88,316.90 L1090.88,318.00 L1094.51,318.00 L1094.51,318.00 L1098.14,318.00 L1098.14,318.00 L1101.77,318.00 L1101.77,318.00 L1105.40,318.00 L1105.40,318.00 L1109.03,318.00 L1109.03,318.00 L1112.66,318.00 L1112.66,314.70 L1116.29,314.70 L1116.29,318.00 L1119.92,318.00 L1119.92,318.00 L1123.55,318.00 L1123.55,318.00 L1127.18,318.00 L1127.18,313.60 L1130.81,313.60 L1130.81,312.50 L1134.44,312.50 L1134.44,312.50 L1138.07,312.50 L1138.07,310.30 L1141.70,310.30 L1141.70,303.70 L1145.33,303.70 L1145.33,289.40 L1148.96,289.40 L1148.96,285.00 L1152.59,285.00 L1152.59,261.90 L1156.22,261.90 L1156.22,221.20 L1159.85,221.20 L1159.85,203.60 L1163.48,203.60 L1163.48,178.30 L1167.11,178.30 L1167.11,142.00 L1170.74,142.00 L1170.74,80.40 L1174.37,80.40 L1174.37,67.20 L1178.00,67.20 L1178.00,39.70 L1181.63,39.70 L1181.63,118.90 L1185.26,118.90 L1185.26,112.30 L1188.89,112.30 L1188.89,151.90 L1192.52,151.90 L1192.52,179.40 L1196.15,179.40 L1196.15,227.80 L1199.78,227.80 L1199.78,235.50 L1203.41,235.50 L1203.41,279.50 L1207.04,279.50 L1207.04,297.10 L1210.67,297.10 L1210.67,297.10 L1214.30,297.10 L1214.30,310.30 L1217.93,310.30 L1217.93,310.30 L1221.56,310.30 L1221.56,316.90 L1225.19,316.90 L1225.19,316.90 L1228.82,316.90 L1228.82,316.90 L1232.45,316.90 L1232.45,316.90 L1236.08,316.90 L1236.08,316.90 L1239.71,316.90 L1239.71,316.90 L1243.34,316.90 L1243.34,318.00 L1246.97,318.00 L1246.97,318.00 L1250.60,318.00 L1250.60,318.00 L1254.23,318.00 L1254.23,316.90 L1257.86,316.90 L1257.86,318.00 L1261.49,318.00 L1261.49,318.00 L1265.12,318.00 L1265.12,316.90 L1268.75,316.90 L1268.75,318.00 L1272.38,318.00 L1272.38,318.00 L1276.01,318.00 L1276.01,318.00 L1279.64,318.00 L1279.64,318.00 L1283.27,318.00 L1283.27,318.00 L1286.90,318.00 L1286.90,318.00 L1290.53,318.00 L1290.53,318.00 L1294.16,318.00 L1294.16,318.00 L1297.79,318.00 L1297.79,318.00 L1301.42,318.00 L1301.42,316.90 L1305.05,316.90 L1305.05,318.00 L1308.68,318.00 L1308.68,318.00 L1312.31,318.00 L1312.31,318.00 L1315.94,318.00 L1315.94,318.00 L1319.57,318.00 L1319.57,318.00 L1323.20,318.00 L1323.20,316.90 L1326.83,316.90 L1326.83,318.00 L1330.46,318.00 L1330.46,318.00 L1334.09,318.00 L1334.09,318.00 L1337.72,318.00 L1337.72,318.00 L1341.35,318.00 L1341.35,318.00 L1344.98,318.00 L1344.98,318.00 L1348.61,318.00 L1348.61,318.00 L1352.24,318.00 L1352.24,318.00 L1355.87,318.00 L1355.87,318.00 L1359.50,318.00" fill="none" stroke="#000" stroke-width="2" stroke-linejoin="miter"/>
<clipPath id="c28"><rect x="996" y="25" width="364" height="293"/></clipPath>
<path d="M1132.62,312.49 L1132.93,312.53 L1133.23,312.57 L1133.53,312.59 L1133.84,312.60 L1134.14,312.61 L1134.44,312.60 L1134.74,312.58 L1135.05,312.55 L1135.35,312.51 L1135.65,312.46 L1135.95,312.39 L1136.26,312.31 L1136.56,312.22 L1136.86,312.11 L1137.16,311.99 L1137.46,311.85 L1137.77,311.70 L1138.07,311.53 L1138.37,311.34 L1138.67,311.14 L1138.98,310.91 L1139.28,310.67 L1139.58,310.41 L1139.88,310.12 L1140.19,309.82 L1140.49,309.49 L1140.79,309.14 L1141.10,308.77 L1141.40,308.38 L1141.70,307.96 L1142.00,307.51 L1142.31,307.04 L1142.61,306.54 L1142.91,306.02 L1143.21,305.46 L1143.52,304.88 L1143.82,304.26 L1144.12,303.62 L1144.42,302.95 L1144.72,302.24 L1145.03,301.50 L1145.33,300.72 L1145.63,299.91 L1145.93,299.07 L1146.24,298.19 L1146.54,297.27 L1146.84,296.32 L1147.14,295.33 L1147.45,294.30 L1147.75,293.23 L1148.05,292.12 L1148.36,290.96 L1148.66,289.77 L1148.96,288.54 L1149.26,287.26 L1149.57,285.94 L1149.87,284.58 L1150.17,283.17 L1150.47,281.72 L1150.78,280.22 L1151.08,278.68 L1151.38,277.09 L1151.68,275.46 L1151.99,273.78 L1152.29,272.06 L1152.59,270.29 L1152.89,268.47 L1153.19,266.60 L1153.50,264.69 L1153.80,262.74 L1154.10,260.74 L1154.40,258.69 L1154.71,256.60 L1155.01,254.46 L1155.31,252.27 L1155.62,250.05 L1155.92,247.77 L1156.22,245.46 L1156.52,243.10 L1156.83,240.70 L1157.13,238.27 L1157.43,235.79 L1157.73,233.27 L1158.04,230.71 L1158.34,228.12 L1158.64,225.49 L1158.94,222.83 L1159.24,220.13 L1159.55,217.41 L1159.85,214.65 L1160.15,211.86 L1160.45,209.05 L1160.76,206.22 L1161.06,203.36 L1161.36,200.47 L1161.66,197.57 L1161.97,194.66 L1162.27,191.72 L1162.57,188.78 L1162.88,185.82 L1163.18,182.86 L1163.48,179.89 L1163.78,176.91 L1164.09,173.94 L1164.39,170.96 L1164.69,167.99 L1164.99,165.03 L1165.30,162.08 L1165.60,159.13 L1165.90,156.20 L1166.20,153.29 L1166.51,150.40 L1166.81,147.53 L1167.11,144.69 L1167.41,141.87 L1167.71,139.09 L1168.02,136.34 L1168.32,133.62 L1168.62,130.95 L1168.92,128.32 L1169.23,125.73 L1169.53,123.20 L1169.83,120.71 L1170.13,118.27 L1170.44,115.90 L1170.74,113.58 L1171.04,111.32 L1171.35,109.13 L1171.65,107.00 L1171.95,104.94 L1172.25,102.95 L1172.56,101.04 L1172.86,99.20 L1173.16,97.44 L1173.46,95.76 L1173.77,94.16 L1174.07,92.65 L1174.37,91.22 L1174.67,89.88 L1174.97,88.63 L1175.28,87.47 L1175.58,86.40 L1175.88,85.42 L1176.18,84.54 L1176.49,83.76 L1176.79,83.07 L1177.09,82.48 L1177.39,81.98 L1177.70,81.59 L1178.00,81.30 L1178.30,81.10 L1178.61,81.01 L1178.91,81.01 L1179.21,81.12 L1179.51,81.32 L1179.82,81.63 L1180.12,82.03 L1180.42,82.54 L1180.72,83.14 L1181.03,83.84 L1181.33,84.63 L1181.63,85.53 L1181.93,86.51 L1182.24,87.59 L1182.54,88.77 L1182.84,90.03 L1183.14,91.38 L1183.44,92.82 L1183.75,94.35 L1184.05,95.96 L1184.35,97.65 L1184.65,99.42 L1184.96,101.28 L1185.26,103.20 L1185.56,105.20 L1185.87,107.28 L1186.17,109.42 L1186.47,111.63 L1186.77,113.90 L1187.08,116.23 L1187.38,118.62 L1187.68,121.07 L1187.98,123.58 L1188.29,126.13 L1188.59,128.73 L1188.89,131.38 L1189.19,134.07 L1189.50,136.80 L1189.80,139.57 L1190.10,142.37 L1190.40,145.20 L1190.70,148.06 L1191.01,150.95 L1191.31,153.86 L1191.61,156.79 L1191.91,159.74 L1192.22,162.70 L1192.52,165.68 L1192.82,168.66 L1193.12,171.65 L1193.43,174.65 L1193.73,177.64 L1194.03,180.64 L1194.34,183.63 L1194.64,186.61 L1194.94,189.59 L1195.24,192.56 L1195.55,195.51 L1195.85,198.45 L1196.15,201.38 L1196.45,204.28 L1196.76,207.16 L1197.06,210.02 L1197.36,212.86 L1197.66,215.67 L1197.96,218.45 L1198.27,221.20 L1198.57,223.92 L1198.87,226.60 L1199.17,229.26 L1199.48,231.87 L1199.78,234.45 L1200.08,237.00 L1200.38,239.50 L1200.69,241.96 L1200.99,244.39 L1201.29,246.77 L1201.60,249.11 L1201.90,251.41 L1202.20,253.66 L1202.50,255.87 L1202.81,258.03 L1203.11,260.15 L1203.41,262.22 L1203.71,264.25 L1204.01,266.23 L1204.32,268.17 L1204.62,270.06 L1204.92,271.90 L1205.22,273.69 L1205.53,275.44 L1205.83,277.15 L1206.13,278.81 L1206.43,280.42 L1206.74,281.99 L1207.04,283.51 L1207.34,284.98 L1207.64,286.42 L1207.95,287.81 L1208.25,289.15 L1208.55,290.45 L1208.86,291.71 L1209.16,292.93 L1209.46,294.11 L1209.76,295.24 L1210.07,296.34 L1210.37,297.39 L1210.67,298.41 L1210.97,299.39 L1211.28,300.33 L1211.58,301.23 L1211.88,302.10 L1212.18,302.93 L1212.48,303.73 L1212.79,304.50 L1213.09,305.23 L1213.39,305.93 L1213.69,306.60 L1214.00,307.23 L1214.30,307.84 L1214.60,308.42 L1214.90,308.97 L1215.21,309.49 L1215.51,309.98 L1215.81,310.45 L1216.12,310.90 L1216.42,311.31 L1216.72,311.71 L1217.02,312.08 L1217.33,312.43 L1217.63,312.76 L1217.93,313.06 L1218.23,313.35 L1218.54,313.61 L1218.84,313.86 L1219.14,314.09 L1219.44,314.30 L1219.74,314.49 L1220.05,314.67 L1220.35,314.83 L1220.65,314.97 L1220.95,315.10 L1221.26,315.22 L1221.56,315.32 L1221.86,315.41 L1222.16,315.48 L1222.47,315.54 L1222.77,315.59 L1223.07,315.63 L1223.38,315.66" fill="none" stroke="#f00" stroke-width="2" clip-path="url(#c28)"/>
<path d="M1133.99,315.44 L1135.48,316.29 L1136.97,317.11 L1138.46,317.90 L1139.95,318.67 L1141.44,319.41 L1142.93,320.12 L1144.41,320.81 L1145.90,321.47 L1147.39,322.10 L1148.88,322.71 L1150.37,323.29 L1151.86,323.84 L1153.35,324.36 L1154.84,324.86 L1156.33,325.33 L1157.82,325.77 L1159.31,326.19 L1160.80,326.58 L1162.29,326.94 L1163.78,327.28 L1165.27,327.59 L1166.76,327.87 L1168.25,328.12 L1169.74,328.35 L1171.23,328.55 L1172.72,328.73 L1174.21,328.87 L1175.70,328.99 L1177.19,329.09 L1178.68,329.15 L1180.17,329.19 L1181.66,329.21 L1183.15,329.19 L1184.64,329.15 L1186.13,329.08 L1187.62,328.98 L1189.11,328.86 L1190.60,328.71 L1192.09,328.54 L1193.58,328.33 L1195.07,328.10 L1196.56,327.84 L1198.05,327.56 L1199.54,327.25 L1201.03,326.91 L1202.52,326.55 L1204.01,326.15 L1205.50,325.73 L1206.99,325.29 L1208.48,324.81 L1209.97,324.31 L1211.46,323.79 L1212.95,323.23 L1214.44,322.65 L1215.93,322.04 L1217.42,321.41 L1218.91,320.75 L1220.40,320.06 L1221.89,319.34 L1223.38,318.60" fill="none" stroke="#f00" stroke-width="2" stroke-dasharray="3,3" clip-path="url(#c28)"/>
<rect x="996.5" y="25.5" width="363" height="293" fill="none" stroke="#000" stroke-width="1" shape-rendering="crispEdges"/>
<path d="M996.5,318.0 V309.0 M996.5,25.0 V35.0 M1005.5,318.0 V313.0 M1005.5,25.0 V31.0 M1014.5,318.0 V313.0 M1014.5,25.0 V31.0 M1023.5,318.0 V313.0 M1023.5,25.0 V31.0 M1032.5,318.0 V313.0 M1032.5,25.0 V31.0 M1041.5,318.0 V309.0 M1041.5,25.0 V35.0 M1050.5,318.0 V313.0 M1050.5,25.0 V31.0 M1060.5,318.0 V313.0 M1060.5,25.0 V31.0 M1069.5,318.0 V313.0 M1069.5,25.0 V31.0 M1078.5,318.0 V313.0 M1078.5,25.0 V31.0 M1087.5,318.0 V309.0 M1087.5,25.0 V35.0 M1096.5,318.0 V313.0 M1096.5,25.0 V31.0 M1105.5,318.0 V313.0 M1105.5,25.0 V31.0 M1114.5,318.0 V313.0 M1114.5,25.0 V31.0 M1123.5,318.0 V313.0 M1123.5,25.0 V31.0 M1132.5,318.0 V309.0 M1132.5,25.0 V35.0 M1141.5,318.0 V313.0 M1141.5,25.0 V31.0 M1150.5,318.0 V313.0 M1150.5,25.0 V31.0 M1159.5,318.0 V313.0 M1159.5,25.0 V31.0 M1168.5,318.0 V313.0 M1168.5,25.0 V31.0 M1178.5,318.0 V309.0 M1178.5,25.0 V35.0 M1187.5,318.0 V313.0 M1187.5,25.0 V31.0 M1196.5,318.0 V313.0 M1196.5,25.0 V31.0 M1205.5,318.0 V313.0 M1205.5,25.0 V31.0 M1214.5,318.0 V313.0 M1214.5,25.0 V31.0 M1223.5,318.0 V309.0 M1223.5,25.0 V35.0 M1232.5,318.0 V313.0 M1232.5,25.0 V31.0 M1241.5,318.0 V313.0 M1241.5,25.0 V31.0 M1250.5,318.0 V313.0 M1250.5,25.0 V31.0 M1259.5,318.0 V313.0 M1259.5,25.0 V31.0 M1268.5,318.0 V309.0 M1268.5,25.0 V35.0 M1277.5,318.0 V313.0 M1277.5,25.0 V31.0 M1286.5,318.0 V313.0 M1286.5,25.0 V31.0 M1295.5,318.0 V313.0 M1295.5,25.0 V31.0 M1305.5,318.0 V313.0 M1305.5,25.0 V31.0 M1314.5,318.0 V309.0 M1314.5,25.0 V35.0 M1323.5,318.0 V313.0 M1323.5,25.0 V31.0 M1332.5,318.0 V313.0 M1332.5,25.0 V31.0 M1341.5,318.0 V313.0 M1341.5,25.0 V31.0 M1350.5,318.0 V313.0 M1350.5,25.0 V31.0 M1359.5,318.0 V309.0 M1359.5,25.0 V35.0 M996.5,317.5 H1006.5 M1359.5,317.5 H1349.5 M996.5,306.5 H1001.5 M1359.5,306.5 H1354.5 M996.5,295.5 H1001.5 M1359.5,295.5 H1354.5 M996.5,284.5 H1001.5 M1359.5,284.5 H1354.5 M996.5,273.5 H1001.5 M1359.5,273.5 H1354.5 M996.5,262.5 H1006.5 M1359.5,262.5 H1349.5 M996.5,251.5 H1001.5 M1359.5,251.5 H1354.5 M996.5,240.5 H1001.5 M1359.5,240.5 H1354.5 M996.5,229.5 H1001.5 M1359.5,229.5 H1354.5 M996.5,218.5 H1001.5 M1359.5,218.5 H1354.5 M996.5,207.5 H1006.5 M1359.5,207.5 H1349.5 M996.5,196.5 H1001.5 M1359.5,196.5 H1354.5 M996.5,185.5 H1001.5 M1359.5,185.5 H1354.5 M996.5,174.5 H1001.5 M1359.5,174.5 H1354.5 M996.5,163.5 H1001.5 M1359.5,163.5 H1354.5 M996.5,152.5 H1006.5 M1359.5,152.5 H1349.5 M996.5,141.5 H1001.5 M1359.5,141.5 H1354.5 M996.5,130.5 H1001.5 M1359.5,130.5 H1354.5 M996.5,119.5 H1001.5 M1359.5,119.5 H1354.5 M996.5,108.5 H1001.5 M1359.5,108.5 H1354.5 M996.5,97.5 H1006.5 M1359.5,97.5 H1349.5 M996.5,86.5 H1001.5 M1359.5,86.5 H1354.5 M996.5,75.5 H1001.5 M1359.5,75.5 H1354.5 M996.5,64.5 H1001.5 M1359.5,64.5 H1354.5 M996.5,53.5 H1001.5 M1359.5,53.5 H1354.5 M996.5,42.5 H1006.5 M1359.5,42.5 H1349.5 M996.5,31.5 H1001.5 M1359.5,31.5 H1354.5" stroke="#000" stroke-width="1" fill="none" shape-rendering="crispEdges"/>
<g font-family='"Liberation Serif", serif' font-weight="bold" font-size="17" fill="#000" stroke="#000" stroke-width="0.3"><text x="996.0" y="334.0" text-anchor="middle">-4</text><text x="1041.4" y="334.0" text-anchor="middle">-3</text><text x="1086.8" y="334.0" text-anchor="middle">-2</text><text x="1132.1" y="334.0" text-anchor="middle">-1</text><text x="1177.5" y="334.0" text-anchor="middle">0</text><text x="1222.9" y="334.0" text-anchor="middle">1</text><text x="1268.2" y="334.0" text-anchor="middle">2</text><text x="1313.6" y="334.0" text-anchor="middle">3</text><text x="1359.0" y="334.0" text-anchor="middle">4</text><text x="994.5" y="322.8" text-anchor="end">0</text><text x="994.5" y="267.8" text-anchor="end">50</text><text x="994.5" y="212.8" text-anchor="end">100</text><text x="994.5" y="157.8" text-anchor="end">150</text><text x="994.5" y="102.8" text-anchor="end">200</text><text x="994.5" y="47.8" text-anchor="end">250</text></g>
<path d="M951,11 H1104 V30 H951 Z" fill="#000" shape-rendering="crispEdges"/>
<rect x="948.5" y="8.5" width="154" height="20" fill="#f2f2f2" stroke="#000" stroke-width="1" shape-rendering="crispEdges"/>
<text x="954.3" y="25" font-family='"Liberation Sans", sans-serif' font-weight="bold" font-size="15" stroke="#000" stroke-width="0.3">D<tspan font-size="10" dy="-8">+</tspan><tspan dy="8" x="975.3">vertex resolution</tspan></text>
<rect x="1223.5" y="8.5" width="154" height="154" fill="#fff" stroke="#000" stroke-width="1" shape-rendering="crispEdges"/>
<g font-family='"Liberation Serif", serif' font-weight="bold" font-size="16" fill="#000" stroke="#000" stroke-width="0.3"><text x="1231.0" y="23.6">Entries</text><text x="1368.5" y="23.6" text-anchor="end">2262</text><text x="1231.0" y="42.8">Mean</text><text x="1368.5" y="42.8" text-anchor="end">0.017 <tspan font-weight='normal' stroke-width='0.15'>&#177;</tspan> 0.029</text><text x="1231.0" y="59.9">Sigma</text><text x="1368.5" y="61.9" text-anchor="end">0.330 <tspan font-weight='normal' stroke-width='0.15'>&#177;</tspan> 0.006</text><text x="1231.0" y="79.8"><tspan font-weight='normal' stroke='none' font-size='17'>&#967;</tspan><tspan font-weight='normal' stroke='none' font-size='10' dx='0.8' dy='-6'>2</tspan><tspan dy='6'>/NDF</tspan></text><text x="1368.5" y="81.0" text-anchor="end">1.33</text><text x="1231.0" y="98.9">Probability</text><text x="1368.5" y="100.2" text-anchor="end">0.15</text><text x="1231.0" y="119.3">S / B</text><text x="1368.5" y="119.3" text-anchor="end">17.19 <tspan font-weight='normal' stroke-width='0.15'>&#177;</tspan> 1.61</text><text x="1231.0" y="138.5">N</text><text x="1368.5" y="138.5" text-anchor="end">2333.1 <tspan font-weight='normal' stroke-width='0.15'>&#177;</tspan> 87.4</text><text x="1231.0" y="157.6">FoM</text><text x="1368.5" y="157.6" text-anchor="end">2204.9</text></g>
<path d="M65.50,704.00 L65.50,704.00 L69.13,704.00 L69.13,703.06 L72.76,703.06 L72.76,704.00 L76.39,704.00 L76.39,704.00 L80.02,704.00 L80.02,704.00 L83.65,704.00 L83.65,704.00 L87.28,704.00 L87.28,703.06 L90.91,703.06 L90.91,704.00 L94.54,704.00 L94.54,704.00 L98.17,704.00 L98.17,703.06 L101.80,703.06 L101.80,704.00 L105.43,704.00 L105.43,704.00 L109.06,704.00 L109.06,704.00 L112.69,704.00 L112.69,704.00 L116.32,704.00 L116.32,704.00 L119.95,704.00 L119.95,703.06 L123.58,703.06 L123.58,704.00 L127.21,704.00 L127.21,704.00 L130.84,704.00 L130.84,703.06 L134.47,703.06 L134.47,704.00 L138.10,704.00 L138.10,704.00 L141.73,704.00 L141.73,703.06 L145.36,703.06 L145.36,704.00 L148.99,704.00 L148.99,704.00 L152.62,704.00 L152.62,704.00 L156.25,704.00 L156.25,704.00 L159.88,704.00 L159.88,704.00 L163.51,704.00 L163.51,704.00 L167.14,704.00 L167.14,704.00 L170.77,704.00 L170.77,704.00 L174.40,704.00 L174.40,703.06 L178.03,703.06 L178.03,704.00 L181.66,704.00 L181.66,704.00 L185.29,704.00 L185.29,704.00 L188.92,704.00 L188.92,704.00 L192.55,704.00 L192.55,704.00 L196.18,704.00 L196.18,704.00 L199.81,704.00 L199.81,704.00 L203.44,704.00 L203.44,704.00 L207.07,704.00 L207.07,703.06 L210.70,703.06 L210.70,694.60 L214.33,694.60 L214.33,688.96 L217.96,688.96 L217.96,669.22 L221.59,669.22 L221.59,656.06 L225.22,656.06 L225.22,614.70 L228.85,614.70 L228.85,594.02 L232.48,594.02 L232.48,564.88 L236.11,564.88 L236.11,527.28 L239.74,527.28 L239.74,477.46 L243.37,477.46 L243.37,433.28 L247.00,433.28 L247.00,425.76 L250.63,425.76 L250.63,463.36 L254.26,463.36 L254.26,522.58 L257.89,522.58 L257.89,542.32 L261.52,542.32 L261.52,579.92 L265.15,579.92 L265.15,650.42 L268.78,650.42 L268.78,657.94 L272.41,657.94 L272.41,679.56 L276.04,679.56 L276.04,688.96 L279.67,688.96 L279.67,701.18 L283.30,701.18 L283.30,692.72 L286.93,692.72 L286.93,703.06 L290.56,703.06 L290.56,704.00 L294.19,704.00 L294.19,704.00 L297.82,704.00 L297.82,704.00 L301.45,704.00 L301.45,703.06 L305.08,703.06 L305.08,703.06 L308.71,703.06 L308.71,704.00 L312.34,704.00 L312.34,704.00 L315.97,704.00 L315.97,704.00 L319.60,704.00 L319.60,704.00 L323.23,704.00 L323.23,704.00 L326.86,704.00 L326.86,704.00 L330.49,704.00 L330.49,704.00 L334.12,704.00 L334.12,704.00 L337.75,704.00 L337.75,703.06 L341.38,703.06 L341.38,704.00 L345.01,704.00 L345.01,704.00 L348.64,704.00 L348.64,704.00 L352.27,704.00 L352.27,704.00 L355.90,704.00 L355.90,704.00 L359.53,704.00 L359.53,703.06 L363.16,703.06 L363.16,704.00 L366.79,704.00 L366.79,704.00 L370.42,704.00 L370.42,704.00 L374.05,704.00 L374.05,704.00 L377.68,704.00 L377.68,703.06 L381.31,703.06 L381.31,704.00 L384.94,704.00 L384.94,704.00 L388.57,704.00 L388.57,704.00 L392.20,704.00 L392.20,704.00 L395.83,704.00 L395.83,704.00 L399.46,704.00 L399.46,704.00 L403.09,704.00 L403.09,704.00 L406.72,704.00 L406.72,704.00 L410.35,704.00 L410.35,704.00 L413.98,704.00 L413.98,704.00 L417.61,704.00 L417.61,704.00 L421.24,704.00 L421.24,704.00 L424.87,704.00 L424.87,704.00 L428.50,704.00 L428.50,704.00 Z" fill="#7d99d1" stroke="none"/>
<path d="M65.50,704.00 L69.13,704.00 L69.13,703.06 L72.76,703.06 L72.76,704.00 L76.39,704.00 L76.39,704.00 L80.02,704.00 L80.02,704.00 L83.65,704.00 L83.65,704.00 L87.28,704.00 L87.28,703.06 L90.91,703.06 L90.91,704.00 L94.54,704.00 L94.54,704.00 L98.17,704.00 L98.17,703.06 L101.80,703.06 L101.80,704.00 L105.43,704.00 L105.43,704.00 L109.06,704.00 L109.06,704.00 L112.69,704.00 L112.69,704.00 L116.32,704.00 L116.32,704.00 L119.95,704.00 L119.95,703.06 L123.58,703.06 L123.58,704.00 L127.21,704.00 L127.21,704.00 L130.84,704.00 L130.84,703.06 L134.47,703.06 L134.47,704.00 L138.10,704.00 L138.10,704.00 L141.73,704.00 L141.73,703.06 L145.36,703.06 L145.36,704.00 L148.99,704.00 L148.99,704.00 L152.62,704.00 L152.62,704.00 L156.25,704.00 L156.25,704.00 L159.88,704.00 L159.88,704.00 L163.51,704.00 L163.51,704.00 L167.14,704.00 L167.14,704.00 L170.77,704.00 L170.77,704.00 L174.40,704.00 L174.40,703.06 L178.03,703.06 L178.03,704.00 L181.66,704.00 L181.66,704.00 L185.29,704.00 L185.29,704.00 L188.92,704.00 L188.92,704.00 L192.55,704.00 L192.55,704.00 L196.18,704.00 L196.18,704.00 L199.81,704.00 L199.81,704.00 L203.44,704.00 L203.44,704.00 L207.07,704.00 L207.07,703.06 L210.70,703.06 L210.70,694.60 L214.33,694.60 L214.33,688.96 L217.96,688.96 L217.96,669.22 L221.59,669.22 L221.59,656.06 L225.22,656.06 L225.22,614.70 L228.85,614.70 L228.85,594.02 L232.48,594.02 L232.48,564.88 L236.11,564.88 L236.11,527.28 L239.74,527.28 L239.74,477.46 L243.37,477.46 L243.37,433.28 L247.00,433.28 L247.00,425.76 L250.63,425.76 L250.63,463.36 L254.26,463.36 L254.26,522.58 L257.89,522.58 L257.89,542.32 L261.52,542.32 L261.52,579.92 L265.15,579.92 L265.15,650.42 L268.78,650.42 L268.78,657.94 L272.41,657.94 L272.41,679.56 L276.04,679.56 L276.04,688.96 L279.67,688.96 L279.67,701.18 L283.30,701.18 L283.30,692.72 L286.93,692.72 L286.93,703.06 L290.56,703.06 L290.56,704.00 L294.19,704.00 L294.19,704.00 L297.82,704.00 L297.82,704.00 L301.45,704.00 L301.45,703.06 L305.08,703.06 L305.08,703.06 L308.71,703.06 L308.71,704.00 L312.34,704.00 L312.34,704.00 L315.97,704.00 L315.97,704.00 L319.60,704.00 L319.60,704.00 L323.23,704.00 L323.23,704.00 L326.86,704.00 L326.86,704.00 L330.49,704.00 L330.49,704.00 L334.12,704.00 L334.12,704.00 L337.75,704.00 L337.75,703.06 L341.38,703.06 L341.38,704.00 L345.01,704.00 L345.01,704.00 L348.64,704.00 L348.64,704.00 L352.27,704.00 L352.27,704.00 L355.90,704.00 L355.90,704.00 L359.53,704.00 L359.53,703.06 L363.16,703.06 L363.16,704.00 L366.79,704.00 L366.79,704.00 L370.42,704.00 L370.42,704.00 L374.05,704.00 L374.05,704.00 L377.68,704.00 L377.68,703.06 L381.31,703.06 L381.31,704.00 L384.94,704.00 L384.94,704.00 L388.57,704.00 L388.57,704.00 L392.20,704.00 L392.20,704.00 L395.83,704.00 L395.83,704.00 L399.46,704.00 L399.46,704.00 L403.09,704.00 L403.09,704.00 L406.72,704.00 L406.72,704.00 L410.35,704.00 L410.35,704.00 L413.98,704.00 L413.98,704.00 L417.61,704.00 L417.61,704.00 L421.24,704.00 L421.24,704.00 L424.87,704.00 L424.87,704.00 L428.50,704.00" fill="none" stroke="#000" stroke-width="2" stroke-linejoin="miter"/>
<clipPath id="c41"><rect x="65" y="411" width="364" height="293"/></clipPath>
<path d="M156.25,703.03 L156.86,703.03 L157.46,703.03 L158.06,703.03 L158.67,703.03 L159.27,703.03 L159.88,703.03 L160.49,703.03 L161.09,703.03 L161.69,703.03 L162.30,703.03 L162.90,703.03 L163.51,703.03 L164.12,703.03 L164.72,703.03 L165.32,703.03 L165.93,703.03 L166.53,703.03 L167.14,703.03 L167.75,703.03 L168.35,703.03 L168.96,703.03 L169.56,703.03 L170.16,703.03 L170.77,703.03 L171.38,703.03 L171.98,703.03 L172.58,703.03 L173.19,703.03 L173.80,703.03 L174.40,703.03 L175.00,703.03 L175.61,703.03 L176.22,703.03 L176.82,703.03 L177.43,703.03 L178.03,703.03 L178.63,703.03 L179.24,703.03 L179.84,703.03 L180.45,703.03 L181.06,703.03 L181.66,703.03 L182.26,703.03 L182.87,703.03 L183.48,703.03 L184.08,703.03 L184.69,703.03 L185.29,703.03 L185.89,703.03 L186.50,703.03 L187.11,703.03 L187.71,703.03 L188.31,703.03 L188.92,703.02 L189.53,703.02 L190.13,703.02 L190.73,703.02 L191.34,703.02 L191.94,703.01 L192.55,703.01 L193.16,703.00 L193.76,703.00 L194.36,702.99 L194.97,702.98 L195.57,702.97 L196.18,702.96 L196.78,702.94 L197.39,702.93 L198.00,702.90 L198.60,702.88 L199.21,702.85 L199.81,702.81 L200.42,702.77 L201.02,702.72 L201.62,702.66 L202.23,702.59 L202.83,702.50 L203.44,702.41 L204.04,702.30 L204.65,702.16 L205.25,702.01 L205.86,701.84 L206.47,701.63 L207.07,701.40 L207.68,701.13 L208.28,700.82 L208.89,700.47 L209.49,700.07 L210.09,699.61 L210.70,699.10 L211.31,698.51 L211.91,697.86 L212.52,697.11 L213.12,696.28 L213.72,695.35 L214.33,694.31 L214.93,693.16 L215.54,691.88 L216.15,690.45 L216.75,688.89 L217.35,687.16 L217.96,685.26 L218.56,683.19 L219.17,680.92 L219.78,678.45 L220.38,675.77 L220.99,672.87 L221.59,669.74 L222.19,666.37 L222.80,662.75 L223.41,658.87 L224.01,654.74 L224.62,650.34 L225.22,645.68 L225.82,640.74 L226.43,635.54 L227.03,630.08 L227.64,624.36 L228.25,618.39 L228.85,612.18 L229.45,605.74 L230.06,599.08 L230.66,592.23 L231.27,585.20 L231.88,578.02 L232.48,570.71 L233.09,563.30 L233.69,555.82 L234.29,548.30 L234.90,540.77 L235.50,533.28 L236.11,525.85 L236.72,518.53 L237.32,511.35 L237.92,504.36 L238.53,497.60 L239.13,491.09 L239.74,484.90 L240.34,479.04 L240.95,473.57 L241.56,468.50 L242.16,463.89 L242.77,459.75 L243.37,456.12 L243.98,453.02 L244.58,450.47 L245.19,448.48 L245.79,447.08 L246.39,446.28 L247.00,446.07 L247.61,446.45 L248.21,447.44 L248.81,449.02 L249.42,451.17 L250.02,453.89 L250.63,457.15 L251.24,460.94 L251.84,465.22 L252.44,469.98 L253.05,475.17 L253.66,480.76 L254.26,486.72 L254.87,493.01 L255.47,499.60 L256.08,506.44 L256.68,513.49 L257.28,520.71 L257.89,528.07 L258.50,535.52 L259.10,543.03 L259.70,550.56 L260.31,558.07 L260.91,565.53 L261.52,572.92 L262.12,580.19 L262.73,587.33 L263.33,594.30 L263.94,601.10 L264.55,607.69 L265.15,614.07 L265.75,620.21 L266.36,626.10 L266.96,631.75 L267.57,637.13 L268.18,642.25 L268.78,647.10 L269.38,651.69 L269.99,656.01 L270.59,660.06 L271.20,663.86 L271.81,667.41 L272.41,670.70 L273.01,673.77 L273.62,676.60 L274.23,679.22 L274.83,681.62 L275.44,683.83 L276.04,685.85 L276.64,687.70 L277.25,689.37 L277.86,690.90 L278.46,692.27 L279.07,693.52 L279.67,694.64 L280.27,695.64 L280.88,696.54 L281.49,697.35 L282.09,698.06 L282.70,698.70 L283.30,699.26 L283.90,699.76 L284.51,700.20 L285.12,700.58 L285.72,700.92 L286.33,701.22 L286.93,701.47 L287.53,701.70 L288.14,701.89 L288.75,702.06 L289.35,702.21 L289.96,702.33 L290.56,702.44 L291.16,702.53 L291.77,702.61 L292.38,702.68 L292.98,702.73 L293.59,702.78 L294.19,702.82 L294.79,702.86 L295.40,702.89 L296.00,702.91 L296.61,702.93 L297.22,702.95 L297.82,702.96 L298.42,702.98 L299.03,702.99 L299.63,702.99 L300.24,703.00 L300.85,703.01 L301.45,703.01 L302.05,703.01 L302.66,703.02 L303.26,703.02 L303.87,703.02 L304.48,703.02 L305.08,703.02 L305.68,703.03 L306.29,703.03 L306.89,703.03 L307.50,703.03 L308.11,703.03 L308.71,703.03 L309.31,703.03 L309.92,703.03 L310.52,703.03 L311.13,703.03 L311.74,703.03 L312.34,703.03 L312.94,703.03 L313.55,703.03 L314.16,703.03 L314.76,703.03 L315.37,703.03 L315.97,703.03 L316.57,703.03 L317.18,703.03 L317.79,703.03 L318.39,703.03 L319.00,703.03 L319.60,703.03 L320.20,703.03 L320.81,703.03 L321.42,703.03 L322.02,703.03 L322.62,703.03 L323.23,703.03 L323.83,703.03 L324.44,703.03 L325.05,703.03 L325.65,703.03 L326.25,703.03 L326.86,703.03 L327.47,703.03 L328.07,703.03 L328.68,703.03 L329.28,703.03 L329.88,703.03 L330.49,703.03 L331.10,703.03 L331.70,703.03 L332.31,703.03 L332.91,703.03 L333.51,703.03 L334.12,703.03 L334.73,703.03 L335.33,703.03 L335.94,703.03 L336.54,703.03 L337.14,703.03 L337.75,703.03" fill="none" stroke="#f00" stroke-width="2" clip-path="url(#c41)"/>
<path d="M208.89,703.03 L210.16,703.03 L211.43,703.03 L212.70,703.03 L213.97,703.03 L215.24,703.03 L216.51,703.03 L217.78,703.03 L219.05,703.03 L220.32,703.03 L221.59,703.03 L222.86,703.03 L224.13,703.03 L225.40,703.03 L226.67,703.03 L227.94,703.03 L229.21,703.03 L230.48,703.03 L231.75,703.03 L233.02,703.03 L234.30,703.03 L235.57,703.03 L236.84,703.03 L238.11,703.03 L239.38,703.03 L240.65,703.03 L241.92,703.03 L243.19,703.03 L244.46,703.03 L245.73,703.03 L247.00,703.03 L248.27,703.03 L249.54,703.03 L250.81,703.03 L252.08,703.03 L253.35,703.03 L254.62,703.03 L255.89,703.03 L257.16,703.03 L258.43,703.03 L259.71,703.03 L260.98,703.03 L262.25,703.03 L263.52,703.03 L264.79,703.03 L266.06,703.03 L267.33,703.03 L268.60,703.03 L269.87,703.03 L271.14,703.03 L272.41,703.03 L273.68,703.03 L274.95,703.03 L276.22,703.03 L277.49,703.03 L278.76,703.03 L280.03,703.03 L281.30,703.03 L282.57,703.03 L283.84,703.03 L285.12,703.03" fill="none" stroke="#f00" stroke-width="2" stroke-dasharray="3,3" clip-path="url(#c41)"/>
<rect x="65.5" y="411.5" width="363" height="293" fill="none" stroke="#000" stroke-width="1" shape-rendering="crispEdges"/>
<path d="M65.5,704.0 V695.0 M65.5,411.0 V421.0 M74.5,704.0 V699.0 M74.5,411.0 V417.0 M83.5,704.0 V699.0 M83.5,411.0 V417.0 M92.5,704.0 V699.0 M92.5,411.0 V417.0 M101.5,704.0 V699.0 M101.5,411.0 V417.0 M110.5,704.0 V695.0 M110.5,411.0 V421.0 M119.5,704.0 V699.0 M119.5,411.0 V417.0 M129.5,704.0 V699.0 M129.5,411.0 V417.0 M138.5,704.0 V699.0 M138.5,411.0 V417.0 M147.5,704.0 V699.0 M147.5,411.0 V417.0 M156.5,704.0 V695.0 M156.5,411.0 V421.0 M165.5,704.0 V699.0 M165.5,411.0 V417.0 M174.5,704.0 V699.0 M174.5,411.0 V417.0 M183.5,704.0 V699.0 M183.5,411.0 V417.0 M192.5,704.0 V699.0 M192.5,411.0 V417.0 M201.5,704.0 V695.0 M201.5,411.0 V421.0 M210.5,704.0 V699.0 M210.5,411.0 V417.0 M219.5,704.0 V699.0 M219.5,411.0 V417.0 M228.5,704.0 V699.0 M228.5,411.0 V417.0 M237.5,704.0 V699.0 M237.5,411.0 V417.0 M247.5,704.0 V695.0 M247.5,411.0 V421.0 M256.5,704.0 V699.0 M256.5,411.0 V417.0 M265.5,704.0 V699.0 M265.5,411.0 V417.0 M274.5,704.0 V699.0 M274.5,411.0 V417.0 M283.5,704.0 V699.0 M283.5,411.0 V417.0 M292.5,704.0 V695.0 M292.5,411.0 V421.0 M301.5,704.0 V699.0 M301.5,411.0 V417.0 M310.5,704.0 V699.0 M310.5,411.0 V417.0 M319.5,704.0 V699.0 M319.5,411.0 V417.0 M328.5,704.0 V699.0 M328.5,411.0 V417.0 M337.5,704.0 V695.0 M337.5,411.0 V421.0 M346.5,704.0 V699.0 M346.5,411.0 V417.0 M355.5,704.0 V699.0 M355.5,411.0 V417.0 M364.5,704.0 V699.0 M364.5,411.0 V417.0 M374.5,704.0 V699.0 M374.5,411.0 V417.0 M383.5,704.0 V695.0 M383.5,411.0 V421.0 M392.5,704.0 V699.0 M392.5,411.0 V417.0 M401.5,704.0 V699.0 M401.5,411.0 V417.0 M410.5,704.0 V699.0 M410.5,411.0 V417.0 M419.5,704.0 V699.0 M419.5,411.0 V417.0 M428.5,704.0 V695.0 M428.5,411.0 V421.0 M65.5,703.5 H75.5 M428.5,703.5 H418.5 M65.5,694.5 H70.5 M428.5,694.5 H423.5 M65.5,684.5 H70.5 M428.5,684.5 H423.5 M65.5,675.5 H70.5 M428.5,675.5 H423.5 M65.5,665.5 H70.5 M428.5,665.5 H423.5 M65.5,656.5 H75.5 M428.5,656.5 H418.5 M65.5,647.5 H70.5 M428.5,647.5 H423.5 M65.5,637.5 H70.5 M428.5,637.5 H423.5 M65.5,628.5 H70.5 M428.5,628.5 H423.5 M65.5,618.5 H70.5 M428.5,618.5 H423.5 M65.5,609.5 H75.5 M428.5,609.5 H418.5 M65.5,600.5 H70.5 M428.5,600.5 H423.5 M65.5,590.5 H70.5 M428.5,590.5 H423.5 M65.5,581.5 H70.5 M428.5,581.5 H423.5 M65.5,571.5 H70.5 M428.5,571.5 H423.5 M65.5,562.5 H75.5 M428.5,562.5 H418.5 M65.5,553.5 H70.5 M428.5,553.5 H423.5 M65.5,543.5 H70.5 M428.5,543.5 H423.5 M65.5,534.5 H70.5 M428.5,534.5 H423.5 M65.5,524.5 H70.5 M428.5,524.5 H423.5 M65.5,515.5 H75.5 M428.5,515.5 H418.5 M65.5,506.5 H70.5 M428.5,506.5 H423.5 M65.5,496.5 H70.5 M428.5,496.5 H423.5 M65.5,487.5 H70.5 M428.5,487.5 H423.5 M65.5,477.5 H70.5 M428.5,477.5 H423.5 M65.5,468.5 H75.5 M428.5,468.5 H418.5 M65.5,459.5 H70.5 M428.5,459.5 H423.5 M65.5,449.5 H70.5 M428.5,449.5 H423.5 M65.5,440.5 H70.5 M428.5,440.5 H423.5 M65.5,430.5 H70.5 M428.5,430.5 H423.5 M65.5,421.5 H75.5 M428.5,421.5 H418.5 M65.5,412.5 H70.5 M428.5,412.5 H423.5" stroke="#000" stroke-width="1" fill="none" shape-rendering="crispEdges"/>
<g font-family='"Liberation Serif", serif' font-weight="bold" font-size="17" fill="#000" stroke="#000" stroke-width="0.3"><text x="65.0" y="720.0" text-anchor="middle">-2</text><text x="110.4" y="720.0" text-anchor="middle">-1.5</text><text x="155.8" y="720.0" text-anchor="middle">-1</text><text x="201.1" y="720.0" text-anchor="middle">-0.5</text><text x="246.5" y="720.0" text-anchor="middle">0</text><text x="291.9" y="720.0" text-anchor="middle">0.5</text><text x="337.2" y="720.0" text-anchor="middle">1</text><text x="382.6" y="720.0" text-anchor="middle">1.5</text><text x="428.0" y="720.0" text-anchor="middle">2</text><text x="63.5" y="708.8" text-anchor="end">0</text><text x="63.5" y="661.8" text-anchor="end">50</text><text x="63.5" y="614.8" text-anchor="end">100</text><text x="63.5" y="567.8" text-anchor="end">150</text><text x="63.5" y="520.8" text-anchor="end">200</text><text x="63.5" y="473.8" text-anchor="end">250</text><text x="63.5" y="426.8" text-anchor="end">300</text></g>
<path d="M20,397 H170 V415 H20 Z" fill="#000" shape-rendering="crispEdges"/>
<rect x="17.5" y="394.5" width="151" height="19" fill="#f2f2f2" stroke="#000" stroke-width="1" shape-rendering="crispEdges"/>
<text x="22.3" y="409" font-family='"Liberation Sans", sans-serif' font-weight="bold" font-size="15" stroke="#000" stroke-width="0.3">D<tspan x="41.3">vertex resolution</tspan></text>
<rect x="33.3" y="397.9" width="3" height="1.3" fill="#000"/>
<rect x="292.5" y="394.5" width="154" height="154" fill="#fff" stroke="#000" stroke-width="1" shape-rendering="crispEdges"/>
<g font-family='"Liberation Serif", serif' font-weight="bold" font-size="16" fill="#000" stroke="#000" stroke-width="0.3"><text x="300.0" y="409.6">Entries</text><text x="437.5" y="409.6" text-anchor="end">2462</text><text x="300.0" y="428.8">Mean</text><text x="437.5" y="428.8" text-anchor="end">-0.001 <tspan font-weight='normal' stroke-width='0.15'>&#177;</tspan> 0.003</text><text x="300.0" y="445.9">Sigma</text><text x="437.5" y="447.9" text-anchor="end">0.138 <tspan font-weight='normal' stroke-width='0.15'>&#177;</tspan> 0.003</text><text x="300.0" y="465.9"><tspan font-weight='normal' stroke='none' font-size='17'>&#967;</tspan><tspan font-weight='normal' stroke='none' font-size='10' dx='0.8' dy='-6'>2</tspan><tspan dy='6'>/NDF</tspan></text><text x="437.5" y="467.1" text-anchor="end">1.41</text><text x="300.0" y="484.9">Probability</text><text x="437.5" y="486.2" text-anchor="end">0.08</text><text x="300.0" y="505.4">S / B</text><text x="437.5" y="505.4" text-anchor="end">360.32 <tspan font-weight='normal' stroke-width='0.15'>&#177;</tspan> 140.91</text><text x="300.0" y="524.5">N</text><text x="437.5" y="524.5" text-anchor="end">2364.1 <tspan font-weight='normal' stroke-width='0.15'>&#177;</tspan> 53.2</text><text x="300.0" y="543.6">FoM</text><text x="437.5" y="543.6" text-anchor="end">2357.6</text></g>
<path d="M531.50,704.00 L531.50,704.00 L535.13,704.00 L535.13,704.00 L538.76,704.00 L538.76,704.00 L542.39,704.00 L542.39,704.00 L546.02,704.00 L546.02,704.00 L549.65,704.00 L549.65,703.04 L553.28,703.04 L553.28,704.00 L556.91,704.00 L556.91,703.04 L560.54,703.04 L560.54,703.04 L564.17,703.04 L564.17,704.00 L567.80,704.00 L567.80,704.00 L571.43,704.00 L571.43,704.00 L575.06,704.00 L575.06,703.04 L578.69,703.04 L578.69,704.00 L582.32,704.00 L582.32,704.00 L585.95,704.00 L585.95,704.00 L589.58,704.00 L589.58,704.00 L593.21,704.00 L593.21,704.00 L596.84,704.00 L596.84,704.00 L600.47,704.00 L600.47,704.00 L604.10,704.00 L604.10,704.00 L607.73,704.00 L607.73,704.00 L611.36,704.00 L611.36,704.00 L614.99,704.00 L614.99,704.00 L618.62,704.00 L618.62,704.00 L622.25,704.00 L622.25,704.00 L625.88,704.00 L625.88,704.00 L629.51,704.00 L629.51,704.00 L633.14,704.00 L633.14,704.00 L636.77,704.00 L636.77,704.00 L640.40,704.00 L640.40,704.00 L644.03,704.00 L644.03,704.00 L647.66,704.00 L647.66,704.00 L651.29,704.00 L651.29,704.00 L654.92,704.00 L654.92,704.00 L658.55,704.00 L658.55,702.08 L662.18,702.08 L662.18,704.00 L665.81,704.00 L665.81,704.00 L669.44,704.00 L669.44,701.12 L673.07,701.12 L673.07,700.16 L676.70,700.16 L676.70,699.20 L680.33,699.20 L680.33,694.40 L683.96,694.40 L683.96,682.88 L687.59,682.88 L687.59,645.44 L691.22,645.44 L691.22,626.24 L694.85,626.24 L694.85,595.52 L698.48,595.52 L698.48,559.04 L702.11,559.04 L702.11,508.16 L705.74,508.16 L705.74,488.96 L709.37,488.96 L709.37,465.92 L713.00,465.92 L713.00,425.60 L716.63,425.60 L716.63,426.56 L720.26,426.56 L720.26,500.48 L723.89,500.48 L723.89,564.80 L727.52,564.80 L727.52,586.88 L731.15,586.88 L731.15,610.88 L734.78,610.88 L734.78,644.48 L738.41,644.48 L738.41,670.40 L742.04,670.40 L742.04,688.64 L745.67,688.64 L745.67,698.24 L749.30,698.24 L749.30,701.12 L752.93,701.12 L752.93,701.12 L756.56,701.12 L756.56,704.00 L760.19,704.00 L760.19,704.00 L763.82,704.00 L763.82,704.00 L767.45,704.00 L767.45,704.00 L771.08,704.00 L771.08,704.00 L774.71,704.00 L774.71,704.00 L778.34,704.00 L778.34,704.00 L781.97,704.00 L781.97,704.00 L785.60,704.00 L785.60,704.00 L789.23,704.00 L789.23,704.00 L792.86,704.00 L792.86,704.00 L796.49,704.00 L796.49,704.00 L800.12,704.00 L800.12,704.00 L803.75,704.00 L803.75,704.00 L807.38,704.00 L807.38,703.04 L811.01,703.04 L811.01,704.00 L814.64,704.00 L814.64,704.00 L818.27,704.00 L818.27,703.04 L821.90,703.04 L821.90,704.00 L825.53,704.00 L825.53,703.04 L829.16,703.04 L829.16,704.00 L832.79,704.00 L832.79,704.00 L836.42,704.00 L836.42,703.04 L840.05,703.04 L840.05,703.04 L843.68,703.04 L843.68,704.00 L847.31,704.00 L847.31,704.00 L850.94,704.00 L850.94,704.00 L854.57,704.00 L854.57,704.00 L858.20,704.00 L858.20,704.00 L861.83,704.00 L861.83,704.00 L865.46,704.00 L865.46,704.00 L869.09,704.00 L869.09,704.00 L872.72,704.00 L872.72,703.04 L876.35,703.04 L876.35,704.00 L879.98,704.00 L879.98,704.00 L883.61,704.00 L883.61,704.00 L887.24,704.00 L887.24,704.00 L890.87,704.00 L890.87,704.00 L894.50,704.00 L894.50,704.00 Z" fill="#7d99d1" stroke="none"/>
<path d="M531.50,704.00 L535.13,704.00 L535.13,704.00 L538.76,704.00 L538.76,704.00 L542.39,704.00 L542.39,704.00 L546.02,704.00 L546.02,704.00 L549.65,704.00 L549.65,703.04 L553.28,703.04 L553.28,704.00 L556.91,704.00 L556.91,703.04 L560.54,703.04 L560.54,703.04 L564.17,703.04 L564.17,704.00 L567.80,704.00 L567.80,704.00 L571.43,704.00 L571.43,704.00 L575.06,704.00 L575.06,703.04 L578.69,703.04 L578.69,704.00 L582.32,704.00 L582.32,704.00 L585.95,704.00 L585.95,704.00 L589.58,704.00 L589.58,704.00 L593.21,704.00 L593.21,704.00 L596.84,704.00 L596.84,704.00 L600.47,704.00 L600.47,704.00 L604.10,704.00 L604.10,704.00 L607.73,704.00 L607.73,704.00 L611.36,704.00 L611.36,704.00 L614.99,704.00 L614.99,704.00 L618.62,704.00 L618.62,704.00 L622.25,704.00 L622.25,704.00 L625.88,704.00 L625.88,704.00 L629.51,704.00 L629.51,704.00 L633.14,704.00 L633.14,704.00 L636.77,704.00 L636.77,704.00 L640.40,704.00 L640.40,704.00 L644.03,704.00 L644.03,704.00 L647.66,704.00 L647.66,704.00 L651.29,704.00 L651.29,704.00 L654.92,704.00 L654.92,704.00 L658.55,704.00 L658.55,702.08 L662.18,702.08 L662.18,704.00 L665.81,704.00 L665.81,704.00 L669.44,704.00 L669.44,701.12 L673.07,701.12 L673.07,700.16 L676.70,700.16 L676.70,699.20 L680.33,699.20 L680.33,694.40 L683.96,694.40 L683.96,682.88 L687.59,682.88 L687.59,645.44 L691.22,645.44 L691.22,626.24 L694.85,626.24 L694.85,595.52 L698.48,595.52 L698.48,559.04 L702.11,559.04 L702.11,508.16 L705.74,508.16 L705.74,488.96 L709.37,488.96 L709.37,465.92 L713.00,465.92 L713.00,425.60 L716.63,425.60 L716.63,426.56 L720.26,426.56 L720.26,500.48 L723.89,500.48 L723.89,564.80 L727.52,564.80 L727.52,586.88 L731.15,586.88 L731.15,610.88 L734.78,610.88 L734.78,644.48 L738.41,644.48 L738.41,670.40 L742.04,670.40 L742.04,688.64 L745.67,688.64 L745.67,698.24 L749.30,698.24 L749.30,701.12 L752.93,701.12 L752.93,701.12 L756.56,701.12 L756.56,704.00 L760.19,704.00 L760.19,704.00 L763.82,704.00 L763.82,704.00 L767.45,704.00 L767.45,704.00 L771.08,704.00 L771.08,704.00 L774.71,704.00 L774.71,704.00 L778.34,704.00 L778.34,704.00 L781.97,704.00 L781.97,704.00 L785.60,704.00 L785.60,704.00 L789.23,704.00 L789.23,704.00 L792.86,704.00 L792.86,704.00 L796.49,704.00 L796.49,704.00 L800.12,704.00 L800.12,704.00 L803.75,704.00 L803.75,704.00 L807.38,704.00 L807.38,703.04 L811.01,703.04 L811.01,704.00 L814.64,704.00 L814.64,704.00 L818.27,704.00 L818.27,703.04 L821.90,703.04 L821.90,704.00 L825.53,704.00 L825.53,703.04 L829.16,703.04 L829.16,704.00 L832.79,704.00 L832.79,704.00 L836.42,704.00 L836.42,703.04 L840.05,703.04 L840.05,703.04 L843.68,703.04 L843.68,704.00 L847.31,704.00 L847.31,704.00 L850.94,704.00 L850.94,704.00 L854.57,704.00 L854.57,704.00 L858.20,704.00 L858.20,704.00 L861.83,704.00 L861.83,704.00 L865.46,704.00 L865.46,704.00 L869.09,704.00 L869.09,704.00 L872.72,704.00 L872.72,703.04 L876.35,703.04 L876.35,704.00 L879.98,704.00 L879.98,704.00 L883.61,704.00 L883.61,704.00 L887.24,704.00 L887.24,704.00 L890.87,704.00 L890.87,704.00 L894.50,704.00" fill="none" stroke="#000" stroke-width="2" stroke-linejoin="miter"/>
<clipPath id="c55"><rect x="531" y="411" width="364" height="293"/></clipPath>
<path d="M622.25,703.02 L622.86,703.02 L623.46,703.02 L624.07,703.02 L624.67,703.02 L625.27,703.02 L625.88,703.02 L626.49,703.02 L627.09,703.02 L627.70,703.02 L628.30,703.02 L628.90,703.02 L629.51,703.02 L630.12,703.02 L630.72,703.02 L631.33,703.02 L631.93,703.02 L632.53,703.02 L633.14,703.02 L633.75,703.02 L634.35,703.02 L634.96,703.02 L635.56,703.02 L636.16,703.02 L636.77,703.02 L637.38,703.02 L637.98,703.02 L638.59,703.02 L639.19,703.02 L639.79,703.02 L640.40,703.02 L641.00,703.02 L641.61,703.02 L642.22,703.02 L642.82,703.02 L643.42,703.02 L644.03,703.02 L644.63,703.02 L645.24,703.02 L645.85,703.02 L646.45,703.02 L647.06,703.02 L647.66,703.02 L648.26,703.02 L648.87,703.02 L649.48,703.02 L650.08,703.02 L650.69,703.02 L651.29,703.02 L651.89,703.02 L652.50,703.02 L653.11,703.02 L653.71,703.02 L654.32,703.02 L654.92,703.02 L655.52,703.01 L656.13,703.01 L656.74,703.01 L657.34,703.01 L657.94,703.01 L658.55,703.00 L659.15,703.00 L659.76,702.99 L660.37,702.99 L660.97,702.98 L661.58,702.97 L662.18,702.96 L662.78,702.95 L663.39,702.93 L664.00,702.91 L664.60,702.89 L665.21,702.86 L665.81,702.83 L666.41,702.79 L667.02,702.75 L667.62,702.69 L668.23,702.63 L668.84,702.56 L669.44,702.47 L670.04,702.37 L670.65,702.26 L671.25,702.12 L671.86,701.97 L672.47,701.79 L673.07,701.58 L673.67,701.34 L674.28,701.07 L674.88,700.75 L675.49,700.40 L676.10,699.99 L676.70,699.53 L677.31,699.01 L677.91,698.41 L678.51,697.75 L679.12,697.00 L679.73,696.16 L680.33,695.22 L680.93,694.18 L681.54,693.02 L682.14,691.73 L682.75,690.30 L683.36,688.73 L683.96,687.00 L684.57,685.10 L685.17,683.02 L685.77,680.75 L686.38,678.28 L686.99,675.60 L687.59,672.70 L688.19,669.57 L688.80,666.21 L689.40,662.59 L690.01,658.73 L690.62,654.60 L691.22,650.22 L691.83,645.56 L692.43,640.65 L693.03,635.46 L693.64,630.02 L694.25,624.32 L694.85,618.36 L695.45,612.17 L696.06,605.74 L696.66,599.11 L697.27,592.27 L697.88,585.25 L698.48,578.08 L699.09,570.78 L699.69,563.37 L700.29,555.88 L700.90,548.35 L701.50,540.81 L702.11,533.29 L702.72,525.83 L703.32,518.46 L703.92,511.24 L704.53,504.18 L705.13,497.34 L705.74,490.76 L706.35,484.47 L706.95,478.50 L707.56,472.91 L708.16,467.72 L708.76,462.96 L709.37,458.67 L709.98,454.88 L710.58,451.60 L711.18,448.87 L711.79,446.70 L712.39,445.10 L713.00,444.09 L713.61,443.67 L714.21,443.85 L714.82,444.62 L715.42,445.99 L716.02,447.93 L716.63,450.44 L717.24,453.50 L717.84,457.09 L718.44,461.19 L719.05,465.76 L719.65,470.78 L720.26,476.22 L720.87,482.04 L721.47,488.21 L722.08,494.68 L722.68,501.42 L723.28,508.39 L723.89,515.55 L724.50,522.87 L725.10,530.29 L725.70,537.79 L726.31,545.33 L726.91,552.87 L727.52,560.38 L728.12,567.82 L728.73,575.17 L729.34,582.40 L729.94,589.48 L730.55,596.39 L731.15,603.11 L731.75,609.63 L732.36,615.91 L732.96,621.96 L733.57,627.77 L734.17,633.32 L734.78,638.61 L735.38,643.63 L735.99,648.39 L736.60,652.88 L737.20,657.11 L737.81,661.08 L738.41,664.79 L739.01,668.25 L739.62,671.48 L740.23,674.47 L740.83,677.23 L741.43,679.79 L742.04,682.13 L742.64,684.29 L743.25,686.26 L743.86,688.05 L744.46,689.69 L745.07,691.17 L745.67,692.52 L746.27,693.73 L746.88,694.82 L747.49,695.80 L748.09,696.68 L748.70,697.46 L749.30,698.16 L749.90,698.78 L750.51,699.33 L751.12,699.81 L751.72,700.24 L752.33,700.62 L752.93,700.95 L753.53,701.24 L754.14,701.49 L754.75,701.71 L755.35,701.90 L755.96,702.06 L756.56,702.21 L757.16,702.33 L757.77,702.44 L758.38,702.53 L758.98,702.60 L759.59,702.67 L760.19,702.73 L760.79,702.77 L761.40,702.81 L762.00,702.85 L762.61,702.88 L763.22,702.90 L763.82,702.92 L764.42,702.94 L765.03,702.95 L765.63,702.97 L766.24,702.98 L766.85,702.98 L767.45,702.99 L768.05,703.00 L768.66,703.00 L769.26,703.00 L769.87,703.01 L770.48,703.01 L771.08,703.01 L771.68,703.01 L772.29,703.01 L772.89,703.02 L773.50,703.02 L774.11,703.02 L774.71,703.02 L775.32,703.02 L775.92,703.02 L776.52,703.02 L777.13,703.02 L777.74,703.02 L778.34,703.02 L778.94,703.02 L779.55,703.02 L780.15,703.02 L780.76,703.02 L781.37,703.02 L781.97,703.02 L782.58,703.02 L783.18,703.02 L783.79,703.02 L784.39,703.02 L785.00,703.02 L785.60,703.02 L786.20,703.02 L786.81,703.02 L787.41,703.02 L788.02,703.02 L788.62,703.02 L789.23,703.02 L789.84,703.02 L790.44,703.02 L791.05,703.02 L791.65,703.02 L792.25,703.02 L792.86,703.02 L793.47,703.02 L794.07,703.02 L794.67,703.02 L795.28,703.02 L795.88,703.02 L796.49,703.02 L797.10,703.02 L797.70,703.02 L798.31,703.02 L798.91,703.02 L799.51,703.02 L800.12,703.02 L800.73,703.02 L801.33,703.02 L801.93,703.02 L802.54,703.02 L803.14,703.02 L803.75,703.02" fill="none" stroke="#f00" stroke-width="2" clip-path="url(#c55)"/>
<path d="M675.79,703.02 L677.06,703.02 L678.33,703.02 L679.60,703.02 L680.87,703.02 L682.14,703.02 L683.42,703.02 L684.69,703.02 L685.96,703.02 L687.23,703.02 L688.50,703.02 L689.77,703.02 L691.04,703.02 L692.31,703.02 L693.58,703.02 L694.85,703.02 L696.12,703.02 L697.39,703.02 L698.66,703.02 L699.93,703.02 L701.20,703.02 L702.47,703.02 L703.74,703.02 L705.01,703.02 L706.28,703.02 L707.56,703.02 L708.83,703.02 L710.10,703.02 L711.37,703.02 L712.64,703.02 L713.91,703.02 L715.18,703.02 L716.45,703.02 L717.72,703.02 L718.99,703.02 L720.26,703.02 L721.53,703.02 L722.80,703.02 L724.07,703.02 L725.34,703.02 L726.61,703.02 L727.88,703.02 L729.15,703.02 L730.42,703.02 L731.69,703.02 L732.97,703.02 L734.24,703.02 L735.51,703.02 L736.78,703.02 L738.05,703.02 L739.32,703.02 L740.59,703.02 L741.86,703.02 L743.13,703.02 L744.40,703.02 L745.67,703.02 L746.94,703.02 L748.21,703.02 L749.48,703.02 L750.75,703.02 L752.02,703.02" fill="none" stroke="#f00" stroke-width="2" stroke-dasharray="3,3" clip-path="url(#c55)"/>
<rect x="531.5" y="411.5" width="363" height="293" fill="none" stroke="#000" stroke-width="1" shape-rendering="crispEdges"/>
<path d="M531.5,704.0 V695.0 M531.5,411.0 V421.0 M540.5,704.0 V699.0 M540.5,411.0 V417.0 M549.5,704.0 V699.0 M549.5,411.0 V417.0 M558.5,704.0 V699.0 M558.5,411.0 V417.0 M567.5,704.0 V699.0 M567.5,411.0 V417.0 M576.5,704.0 V695.0 M576.5,411.0 V421.0 M585.5,704.0 V699.0 M585.5,411.0 V417.0 M595.5,704.0 V699.0 M595.5,411.0 V417.0 M604.5,704.0 V699.0 M604.5,411.0 V417.0 M613.5,704.0 V699.0 M613.5,411.0 V417.0 M622.5,704.0 V695.0 M622.5,411.0 V421.0 M631.5,704.0 V699.0 M631.5,411.0 V417.0 M640.5,704.0 V699.0 M640.5,411.0 V417.0 M649.5,704.0 V699.0 M649.5,411.0 V417.0 M658.5,704.0 V699.0 M658.5,411.0 V417.0 M667.5,704.0 V695.0 M667.5,411.0 V421.0 M676.5,704.0 V699.0 M676.5,411.0 V417.0 M685.5,704.0 V699.0 M685.5,411.0 V417.0 M694.5,704.0 V699.0 M694.5,411.0 V417.0 M703.5,704.0 V699.0 M703.5,411.0 V417.0 M713.5,704.0 V695.0 M713.5,411.0 V421.0 M722.5,704.0 V699.0 M722.5,411.0 V417.0 M731.5,704.0 V699.0 M731.5,411.0 V417.0 M740.5,704.0 V699.0 M740.5,411.0 V417.0 M749.5,704.0 V699.0 M749.5,411.0 V417.0 M758.5,704.0 V695.0 M758.5,411.0 V421.0 M767.5,704.0 V699.0 M767.5,411.0 V417.0 M776.5,704.0 V699.0 M776.5,411.0 V417.0 M785.5,704.0 V699.0 M785.5,411.0 V417.0 M794.5,704.0 V699.0 M794.5,411.0 V417.0 M803.5,704.0 V695.0 M803.5,411.0 V421.0 M812.5,704.0 V699.0 M812.5,411.0 V417.0 M821.5,704.0 V699.0 M821.5,411.0 V417.0 M830.5,704.0 V699.0 M830.5,411.0 V417.0 M840.5,704.0 V699.0 M840.5,411.0 V417.0 M849.5,704.0 V695.0 M849.5,411.0 V421.0 M858.5,704.0 V699.0 M858.5,411.0 V417.0 M867.5,704.0 V699.0 M867.5,411.0 V417.0 M876.5,704.0 V699.0 M876.5,411.0 V417.0 M885.5,704.0 V699.0 M885.5,411.0 V417.0 M894.5,704.0 V695.0 M894.5,411.0 V421.0 M531.5,703.5 H541.5 M894.5,703.5 H884.5 M531.5,693.5 H536.5 M894.5,693.5 H889.5 M531.5,684.5 H536.5 M894.5,684.5 H889.5 M531.5,674.5 H536.5 M894.5,674.5 H889.5 M531.5,665.5 H536.5 M894.5,665.5 H889.5 M531.5,655.5 H541.5 M894.5,655.5 H884.5 M531.5,645.5 H536.5 M894.5,645.5 H889.5 M531.5,636.5 H536.5 M894.5,636.5 H889.5 M531.5,626.5 H536.5 M894.5,626.5 H889.5 M531.5,617.5 H536.5 M894.5,617.5 H889.5 M531.5,607.5 H541.5 M894.5,607.5 H884.5 M531.5,597.5 H536.5 M894.5,597.5 H889.5 M531.5,588.5 H536.5 M894.5,588.5 H889.5 M531.5,578.5 H536.5 M894.5,578.5 H889.5 M531.5,569.5 H536.5 M894.5,569.5 H889.5 M531.5,559.5 H541.5 M894.5,559.5 H884.5 M531.5,549.5 H536.5 M894.5,549.5 H889.5 M531.5,540.5 H536.5 M894.5,540.5 H889.5 M531.5,530.5 H536.5 M894.5,530.5 H889.5 M531.5,521.5 H536.5 M894.5,521.5 H889.5 M531.5,511.5 H541.5 M894.5,511.5 H884.5 M531.5,501.5 H536.5 M894.5,501.5 H889.5 M531.5,492.5 H536.5 M894.5,492.5 H889.5 M531.5,482.5 H536.5 M894.5,482.5 H889.5 M531.5,473.5 H536.5 M894.5,473.5 H889.5 M531.5,463.5 H541.5 M894.5,463.5 H884.5 M531.5,453.5 H536.5 M894.5,453.5 H889.5 M531.5,444.5 H536.5 M894.5,444.5 H889.5 M531.5,434.5 H536.5 M894.5,434.5 H889.5 M531.5,425.5 H536.5 M894.5,425.5 H889.5 M531.5,415.5 H541.5 M894.5,415.5 H884.5" stroke="#000" stroke-width="1" fill="none" shape-rendering="crispEdges"/>
<g font-family='"Liberation Serif", serif' font-weight="bold" font-size="17" fill="#000" stroke="#000" stroke-width="0.3"><text x="531.0" y="720.0" text-anchor="middle">-2</text><text x="576.4" y="720.0" text-anchor="middle">-1.5</text><text x="621.8" y="720.0" text-anchor="middle">-1</text><text x="667.1" y="720.0" text-anchor="middle">-0.5</text><text x="712.5" y="720.0" text-anchor="middle">0</text><text x="757.9" y="720.0" text-anchor="middle">0.5</text><text x="803.2" y="720.0" text-anchor="middle">1</text><text x="848.6" y="720.0" text-anchor="middle">1.5</text><text x="894.0" y="720.0" text-anchor="middle">2</text><text x="529.5" y="708.8" text-anchor="end">0</text><text x="529.5" y="660.8" text-anchor="end">50</text><text x="529.5" y="612.8" text-anchor="end">100</text><text x="529.5" y="564.8" text-anchor="end">150</text><text x="529.5" y="516.8" text-anchor="end">200</text><text x="529.5" y="468.8" text-anchor="end">250</text><text x="529.5" y="420.8" text-anchor="end">300</text></g>
<path d="M486,397 H636 V415 H486 Z" fill="#000" shape-rendering="crispEdges"/>
<rect x="483.5" y="394.5" width="151" height="19" fill="#f2f2f2" stroke="#000" stroke-width="1" shape-rendering="crispEdges"/>
<text x="488.3" y="409" font-family='"Liberation Sans", sans-serif' font-weight="bold" font-size="15" stroke="#000" stroke-width="0.3">D<tspan x="507.3">vertex resolution</tspan></text>
<rect x="499.3" y="397.9" width="3" height="1.3" fill="#000"/>
<rect x="758.5" y="394.5" width="154" height="154" fill="#fff" stroke="#000" stroke-width="1" shape-rendering="crispEdges"/>
<g font-family='"Liberation Serif", serif' font-weight="bold" font-size="16" fill="#000" stroke="#000" stroke-width="0.3"><text x="765.0" y="409.6">Entries</text><text x="903.5" y="409.6" text-anchor="end">2462</text><text x="765.0" y="428.8">Mean</text><text x="903.5" y="428.8" text-anchor="end">0.008 <tspan font-weight='normal' stroke-width='0.15'>&#177;</tspan> 0.003</text><text x="765.0" y="445.9">Sigma</text><text x="903.5" y="447.9" text-anchor="end">0.139 <tspan font-weight='normal' stroke-width='0.15'>&#177;</tspan> 0.002</text><text x="765.0" y="465.9"><tspan font-weight='normal' stroke='none' font-size='17'>&#967;</tspan><tspan font-weight='normal' stroke='none' font-size='10' dx='0.8' dy='-6'>2</tspan><tspan dy='6'>/NDF</tspan></text><text x="903.5" y="467.1" text-anchor="end">1.12</text><text x="765.0" y="484.9">Probability</text><text x="903.5" y="486.2" text-anchor="end">0.30</text><text x="765.0" y="505.4">S / B</text><text x="903.5" y="505.4" text-anchor="end">151.89 <tspan font-weight='normal' stroke-width='0.15'>&#177;</tspan> 38.74</text><text x="765.0" y="524.5">N</text><text x="903.5" y="524.5" text-anchor="end">2353.3 <tspan font-weight='normal' stroke-width='0.15'>&#177;</tspan> 52.8</text><text x="765.0" y="543.6">FoM</text><text x="903.5" y="543.6" text-anchor="end">2337.9</text></g>
<path d="M996.50,704.00 L996.50,704.00 L1000.13,704.00 L1000.13,704.00 L1003.76,704.00 L1003.76,703.09 L1007.39,703.09 L1007.39,704.00 L1011.02,704.00 L1011.02,704.00 L1014.65,704.00 L1014.65,704.00 L1018.28,704.00 L1018.28,704.00 L1021.91,704.00 L1021.91,704.00 L1025.54,704.00 L1025.54,704.00 L1029.17,704.00 L1029.17,703.09 L1032.80,703.09 L1032.80,704.00 L1036.43,704.00 L1036.43,704.00 L1040.06,704.00 L1040.06,703.09 L1043.69,703.09 L1043.69,704.00 L1047.32,704.00 L1047.32,704.00 L1050.95,704.00 L1050.95,704.00 L1054.58,704.00 L1054.58,704.00 L1058.21,704.00 L1058.21,703.09 L1061.84,703.09 L1061.84,704.00 L1065.47,704.00 L1065.47,704.00 L1069.10,704.00 L1069.10,703.09 L1072.73,703.09 L1072.73,704.00 L1076.36,704.00 L1076.36,704.00 L1079.99,704.00 L1079.99,704.00 L1083.62,704.00 L1083.62,704.00 L1087.25,704.00 L1087.25,704.00 L1090.88,704.00 L1090.88,704.00 L1094.51,704.00 L1094.51,704.00 L1098.14,704.00 L1098.14,704.00 L1101.77,704.00 L1101.77,704.00 L1105.40,704.00 L1105.40,704.00 L1109.03,704.00 L1109.03,704.00 L1112.66,704.00 L1112.66,704.00 L1116.29,704.00 L1116.29,704.00 L1119.92,704.00 L1119.92,702.19 L1123.55,702.19 L1123.55,704.00 L1127.18,704.00 L1127.18,702.19 L1130.81,702.19 L1130.81,702.19 L1134.44,702.19 L1134.44,704.00 L1138.07,704.00 L1138.07,704.00 L1141.70,704.00 L1141.70,704.00 L1145.33,704.00 L1145.33,701.28 L1148.96,701.28 L1148.96,701.28 L1152.59,701.28 L1152.59,704.00 L1156.22,704.00 L1156.22,689.49 L1159.85,689.49 L1159.85,678.60 L1163.48,678.60 L1163.48,649.58 L1167.11,649.58 L1167.11,638.70 L1170.74,638.70 L1170.74,563.41 L1174.37,563.41 L1174.37,489.95 L1178.00,489.95 L1178.00,492.67 L1181.63,492.67 L1181.63,456.39 L1185.26,456.39 L1185.26,425.55 L1188.89,425.55 L1188.89,459.11 L1192.52,459.11 L1192.52,481.78 L1196.15,481.78 L1196.15,533.48 L1199.78,533.48 L1199.78,595.16 L1203.41,595.16 L1203.41,626.90 L1207.04,626.90 L1207.04,655.93 L1210.67,655.93 L1210.67,678.60 L1214.30,678.60 L1214.30,678.60 L1217.93,678.60 L1217.93,695.84 L1221.56,695.84 L1221.56,696.74 L1225.19,696.74 L1225.19,700.37 L1228.82,700.37 L1228.82,701.28 L1232.45,701.28 L1232.45,703.09 L1236.08,703.09 L1236.08,704.00 L1239.71,704.00 L1239.71,704.00 L1243.34,704.00 L1243.34,703.09 L1246.97,703.09 L1246.97,704.00 L1250.60,704.00 L1250.60,704.00 L1254.23,704.00 L1254.23,703.09 L1257.86,703.09 L1257.86,703.09 L1261.49,703.09 L1261.49,704.00 L1265.12,704.00 L1265.12,702.19 L1268.75,702.19 L1268.75,704.00 L1272.38,704.00 L1272.38,704.00 L1276.01,704.00 L1276.01,704.00 L1279.64,704.00 L1279.64,704.00 L1283.27,704.00 L1283.27,704.00 L1286.90,704.00 L1286.90,704.00 L1290.53,704.00 L1290.53,704.00 L1294.16,704.00 L1294.16,704.00 L1297.79,704.00 L1297.79,704.00 L1301.42,704.00 L1301.42,704.00 L1305.05,704.00 L1305.05,704.00 L1308.68,704.00 L1308.68,704.00 L1312.31,704.00 L1312.31,704.00 L1315.94,704.00 L1315.94,703.09 L1319.57,703.09 L1319.57,704.00 L1323.20,704.00 L1323.20,704.00 L1326.83,704.00 L1326.83,704.00 L1330.46,704.00 L1330.46,704.00 L1334.09,704.00 L1334.09,704.00 L1337.72,704.00 L1337.72,704.00 L1341.35,704.00 L1341.35,704.00 L1344.98,704.00 L1344.98,704.00 L1348.61,704.00 L1348.61,704.00 L1352.24,704.00 L1352.24,704.00 L1355.87,704.00 L1355.87,704.00 L1359.50,704.00 L1359.50,704.00 Z" fill="#7d99d1" stroke="none"/>
<path d="M996.50,704.00 L1000.13,704.00 L1000.13,704.00 L1003.76,704.00 L1003.76,703.09 L1007.39,703.09 L1007.39,704.00 L1011.02,704.00 L1011.02,704.00 L1014.65,704.00 L1014.65,704.00 L1018.28,704.00 L1018.28,704.00 L1021.91,704.00 L1021.91,704.00 L1025.54,704.00 L1025.54,704.00 L1029.17,704.00 L1029.17,703.09 L1032.80,703.09 L1032.80,704.00 L1036.43,704.00 L1036.43,704.00 L1040.06,704.00 L1040.06,703.09 L1043.69,703.09 L1043.69,704.00 L1047.32,704.00 L1047.32,704.00 L1050.95,704.00 L1050.95,704.00 L1054.58,704.00 L1054.58,704.00 L1058.21,704.00 L1058.21,703.09 L1061.84,703.09 L1061.84,704.00 L1065.47,704.00 L1065.47,704.00 L1069.10,704.00 L1069.10,703.09 L1072.73,703.09 L1072.73,704.00 L1076.36,704.00 L1076.36,704.00 L1079.99,704.00 L1079.99,704.00 L1083.62,704.00 L1083.62,704.00 L1087.25,704.00 L1087.25,704.00 L1090.88,704.00 L1090.88,704.00 L1094.51,704.00 L1094.51,704.00 L1098.14,704.00 L1098.14,704.00 L1101.77,704.00 L1101.77,704.00 L1105.40,704.00 L1105.40,704.00 L1109.03,704.00 L1109.03,704.00 L1112.66,704.00 L1112.66,704.00 L1116.29,704.00 L1116.29,704.00 L1119.92,704.00 L1119.92,702.19 L1123.55,702.19 L1123.55,704.00 L1127.18,704.00 L1127.18,702.19 L1130.81,702.19 L1130.81,702.19 L1134.44,702.19 L1134.44,704.00 L1138.07,704.00 L1138.07,704.00 L1141.70,704.00 L1141.70,704.00 L1145.33,704.00 L1145.33,701.28 L1148.96,701.28 L1148.96,701.28 L1152.59,701.28 L1152.59,704.00 L1156.22,704.00 L1156.22,689.49 L1159.85,689.49 L1159.85,678.60 L1163.48,678.60 L1163.48,649.58 L1167.11,649.58 L1167.11,638.70 L1170.74,638.70 L1170.74,563.41 L1174.37,563.41 L1174.37,489.95 L1178.00,489.95 L1178.00,492.67 L1181.63,492.67 L1181.63,456.39 L1185.26,456.39 L1185.26,425.55 L1188.89,425.55 L1188.89,459.11 L1192.52,459.11 L1192.52,481.78 L1196.15,481.78 L1196.15,533.48 L1199.78,533.48 L1199.78,595.16 L1203.41,595.16 L1203.41,626.90 L1207.04,626.90 L1207.04,655.93 L1210.67,655.93 L1210.67,678.60 L1214.30,678.60 L1214.30,678.60 L1217.93,678.60 L1217.93,695.84 L1221.56,695.84 L1221.56,696.74 L1225.19,696.74 L1225.19,700.37 L1228.82,700.37 L1228.82,701.28 L1232.45,701.28 L1232.45,703.09 L1236.08,703.09 L1236.08,704.00 L1239.71,704.00 L1239.71,704.00 L1243.34,704.00 L1243.34,703.09 L1246.97,703.09 L1246.97,704.00 L1250.60,704.00 L1250.60,704.00 L1254.23,704.00 L1254.23,703.09 L1257.86,703.09 L1257.86,703.09 L1261.49,703.09 L1261.49,704.00 L1265.12,704.00 L1265.12,702.19 L1268.75,702.19 L1268.75,704.00 L1272.38,704.00 L1272.38,704.00 L1276.01,704.00 L1276.01,704.00 L1279.64,704.00 L1279.64,704.00 L1283.27,704.00 L1283.27,704.00 L1286.90,704.00 L1286.90,704.00 L1290.53,704.00 L1290.53,704.00 L1294.16,704.00 L1294.16,704.00 L1297.79,704.00 L1297.79,704.00 L1301.42,704.00 L1301.42,704.00 L1305.05,704.00 L1305.05,704.00 L1308.68,704.00 L1308.68,704.00 L1312.31,704.00 L1312.31,704.00 L1315.94,704.00 L1315.94,703.09 L1319.57,703.09 L1319.57,704.00 L1323.20,704.00 L1323.20,704.00 L1326.83,704.00 L1326.83,704.00 L1330.46,704.00 L1330.46,704.00 L1334.09,704.00 L1334.09,704.00 L1337.72,704.00 L1337.72,704.00 L1341.35,704.00 L1341.35,704.00 L1344.98,704.00 L1344.98,704.00 L1348.61,704.00 L1348.61,704.00 L1352.24,704.00 L1352.24,704.00 L1355.87,704.00 L1355.87,704.00 L1359.50,704.00" fill="none" stroke="#000" stroke-width="2" stroke-linejoin="miter"/>
<clipPath id="c69"><rect x="996" y="411" width="364" height="293"/></clipPath>
<path d="M1132.62,701.92 L1132.93,702.15 L1133.23,702.37 L1133.53,702.60 L1133.84,702.82 L1134.14,703.04 L1134.44,703.26 L1134.74,703.48 L1135.05,703.69 L1135.35,703.90 L1135.65,704.11 L1135.95,704.32 L1136.26,704.52 L1136.56,704.72 L1136.86,704.92 L1137.16,705.12 L1137.46,705.31 L1137.77,705.50 L1138.07,705.69 L1138.37,705.87 L1138.67,706.05 L1138.98,706.22 L1139.28,706.40 L1139.58,706.56 L1139.88,706.73 L1140.19,706.89 L1140.49,707.04 L1140.79,707.19 L1141.10,707.34 L1141.40,707.48 L1141.70,707.61 L1142.00,707.74 L1142.31,707.87 L1142.61,707.98 L1142.91,708.09 L1143.21,708.20 L1143.52,708.29 L1143.82,708.38 L1144.12,708.46 L1144.42,708.53 L1144.72,708.59 L1145.03,708.65 L1145.33,708.69 L1145.63,708.72 L1145.93,708.75 L1146.24,708.76 L1146.54,708.75 L1146.84,708.74 L1147.14,708.71 L1147.45,708.67 L1147.75,708.62 L1148.05,708.54 L1148.36,708.46 L1148.66,708.35 L1148.96,708.23 L1149.26,708.09 L1149.57,707.93 L1149.87,707.75 L1150.17,707.55 L1150.47,707.33 L1150.78,707.08 L1151.08,706.81 L1151.38,706.51 L1151.68,706.19 L1151.99,705.84 L1152.29,705.46 L1152.59,705.05 L1152.89,704.62 L1153.19,704.15 L1153.50,703.64 L1153.80,703.10 L1154.10,702.53 L1154.40,701.92 L1154.71,701.27 L1155.01,700.58 L1155.31,699.85 L1155.62,699.08 L1155.92,698.26 L1156.22,697.40 L1156.52,696.50 L1156.83,695.54 L1157.13,694.54 L1157.43,693.49 L1157.73,692.38 L1158.04,691.22 L1158.34,690.01 L1158.64,688.74 L1158.94,687.42 L1159.24,686.04 L1159.55,684.59 L1159.85,683.09 L1160.15,681.53 L1160.45,679.90 L1160.76,678.22 L1161.06,676.46 L1161.36,674.65 L1161.66,672.76 L1161.97,670.81 L1162.27,668.80 L1162.57,666.71 L1162.88,664.56 L1163.18,662.34 L1163.48,660.05 L1163.78,657.69 L1164.09,655.26 L1164.39,652.77 L1164.69,650.20 L1164.99,647.57 L1165.30,644.87 L1165.60,642.10 L1165.90,639.27 L1166.20,636.37 L1166.51,633.40 L1166.81,630.38 L1167.11,627.29 L1167.41,624.14 L1167.71,620.93 L1168.02,617.66 L1168.32,614.34 L1168.62,610.97 L1168.92,607.54 L1169.23,604.07 L1169.53,600.54 L1169.83,596.98 L1170.13,593.38 L1170.44,589.74 L1170.74,586.06 L1171.04,582.35 L1171.35,578.62 L1171.65,574.86 L1171.95,571.09 L1172.25,567.29 L1172.56,563.49 L1172.86,559.67 L1173.16,555.86 L1173.46,552.04 L1173.77,548.23 L1174.07,544.42 L1174.37,540.64 L1174.67,536.87 L1174.97,533.12 L1175.28,529.41 L1175.58,525.72 L1175.88,522.08 L1176.18,518.47 L1176.49,514.92 L1176.79,511.42 L1177.09,507.98 L1177.39,504.60 L1177.70,501.28 L1178.00,498.05 L1178.30,494.88 L1178.61,491.80 L1178.91,488.81 L1179.21,485.91 L1179.51,483.10 L1179.82,480.40 L1180.12,477.80 L1180.42,475.31 L1180.72,472.93 L1181.03,470.66 L1181.33,468.52 L1181.63,466.50 L1181.93,464.61 L1182.24,462.84 L1182.54,461.21 L1182.84,459.72 L1183.14,458.36 L1183.44,457.14 L1183.75,456.07 L1184.05,455.13 L1184.35,454.35 L1184.65,453.71 L1184.96,453.21 L1185.26,452.87 L1185.56,452.67 L1185.87,452.62 L1186.17,452.73 L1186.47,452.98 L1186.77,453.37 L1187.08,453.92 L1187.38,454.61 L1187.68,455.45 L1187.98,456.43 L1188.29,457.56 L1188.59,458.82 L1188.89,460.22 L1189.19,461.76 L1189.50,463.42 L1189.80,465.22 L1190.10,467.15 L1190.40,469.20 L1190.70,471.37 L1191.01,473.65 L1191.31,476.05 L1191.61,478.55 L1191.91,481.16 L1192.22,483.88 L1192.52,486.68 L1192.82,489.58 L1193.12,492.57 L1193.43,495.63 L1193.73,498.78 L1194.03,501.99 L1194.34,505.28 L1194.64,508.63 L1194.94,512.03 L1195.24,515.49 L1195.55,519.00 L1195.85,522.55 L1196.15,526.14 L1196.45,529.76 L1196.76,533.41 L1197.06,537.09 L1197.36,540.78 L1197.66,544.49 L1197.96,548.21 L1198.27,551.93 L1198.57,555.65 L1198.87,559.37 L1199.17,563.08 L1199.48,566.78 L1199.78,570.46 L1200.08,574.13 L1200.38,577.77 L1200.69,581.38 L1200.99,584.96 L1201.29,588.51 L1201.60,592.01 L1201.90,595.48 L1202.20,598.91 L1202.50,602.29 L1202.81,605.62 L1203.11,608.90 L1203.41,612.13 L1203.71,615.30 L1204.01,618.41 L1204.32,621.47 L1204.62,624.46 L1204.92,627.40 L1205.22,630.27 L1205.53,633.07 L1205.83,635.81 L1206.13,638.48 L1206.43,641.09 L1206.74,643.63 L1207.04,646.10 L1207.34,648.50 L1207.64,650.83 L1207.95,653.09 L1208.25,655.29 L1208.55,657.42 L1208.86,659.47 L1209.16,661.46 L1209.46,663.39 L1209.76,665.24 L1210.07,667.03 L1210.37,668.75 L1210.67,670.41 L1210.97,672.00 L1211.28,673.53 L1211.58,675.00 L1211.88,676.41 L1212.18,677.76 L1212.48,679.04 L1212.79,680.27 L1213.09,681.45 L1213.39,682.57 L1213.69,683.63 L1214.00,684.64 L1214.30,685.60 L1214.60,686.51 L1214.90,687.37 L1215.21,688.18 L1215.51,688.95 L1215.81,689.67 L1216.12,690.34 L1216.42,690.98 L1216.72,691.57 L1217.02,692.13 L1217.33,692.64 L1217.63,693.12 L1217.93,693.57 L1218.23,693.98 L1218.54,694.35 L1218.84,694.70 L1219.14,695.01 L1219.44,695.29 L1219.74,695.55 L1220.05,695.77 L1220.35,695.98 L1220.65,696.15 L1220.95,696.30 L1221.26,696.43 L1221.56,696.54 L1221.86,696.62 L1222.16,696.69 L1222.47,696.74 L1222.77,696.76 L1223.07,696.77 L1223.38,696.77" fill="none" stroke="#f00" stroke-width="2" clip-path="url(#c69)"/>
<path d="M1147.60,711.60 L1148.86,712.23 L1150.12,712.84 L1151.39,713.41 L1152.65,713.96 L1153.91,714.48 L1155.18,714.98 L1156.44,715.44 L1157.70,715.88 L1158.97,716.29 L1160.23,716.67 L1161.49,717.02 L1162.75,717.35 L1164.02,717.64 L1165.28,717.91 L1166.54,718.15 L1167.81,718.37 L1169.07,718.55 L1170.33,718.71 L1171.59,718.84 L1172.86,718.94 L1174.12,719.01 L1175.38,719.06 L1176.65,719.08 L1177.91,719.07 L1179.17,719.03 L1180.44,718.96 L1181.70,718.87 L1182.96,718.74 L1184.22,718.59 L1185.49,718.41 L1186.75,718.21 L1188.01,717.97 L1189.28,717.71 L1190.54,717.42 L1191.80,717.10 L1193.06,716.76 L1194.33,716.38 L1195.59,715.98 L1196.85,715.55 L1198.12,715.09 L1199.38,714.60 L1200.64,714.09 L1201.91,713.55 L1203.17,712.98 L1204.43,712.38 L1205.69,711.75 L1206.96,711.10 L1208.22,710.42 L1209.48,709.71 L1210.75,708.97 L1212.01,708.20 L1213.27,707.41 L1214.53,706.59 L1215.80,705.74 L1217.06,704.86 L1218.32,703.95 L1219.59,703.02 L1220.85,702.06 L1222.11,701.07 L1223.38,700.05" fill="none" stroke="#f00" stroke-width="2" stroke-dasharray="3,3" clip-path="url(#c69)"/>
<rect x="996.5" y="411.5" width="363" height="293" fill="none" stroke="#000" stroke-width="1" shape-rendering="crispEdges"/>
<path d="M996.5,704.0 V695.0 M996.5,411.0 V421.0 M1005.5,704.0 V699.0 M1005.5,411.0 V417.0 M1014.5,704.0 V699.0 M1014.5,411.0 V417.0 M1023.5,704.0 V699.0 M1023.5,411.0 V417.0 M1032.5,704.0 V699.0 M1032.5,411.0 V417.0 M1041.5,704.0 V695.0 M1041.5,411.0 V421.0 M1050.5,704.0 V699.0 M1050.5,411.0 V417.0 M1060.5,704.0 V699.0 M1060.5,411.0 V417.0 M1069.5,704.0 V699.0 M1069.5,411.0 V417.0 M1078.5,704.0 V699.0 M1078.5,411.0 V417.0 M1087.5,704.0 V695.0 M1087.5,411.0 V421.0 M1096.5,704.0 V699.0 M1096.5,411.0 V417.0 M1105.5,704.0 V699.0 M1105.5,411.0 V417.0 M1114.5,704.0 V699.0 M1114.5,411.0 V417.0 M1123.5,704.0 V699.0 M1123.5,411.0 V417.0 M1132.5,704.0 V695.0 M1132.5,411.0 V421.0 M1141.5,704.0 V699.0 M1141.5,411.0 V417.0 M1150.5,704.0 V699.0 M1150.5,411.0 V417.0 M1159.5,704.0 V699.0 M1159.5,411.0 V417.0 M1168.5,704.0 V699.0 M1168.5,411.0 V417.0 M1178.5,704.0 V695.0 M1178.5,411.0 V421.0 M1187.5,704.0 V699.0 M1187.5,411.0 V417.0 M1196.5,704.0 V699.0 M1196.5,411.0 V417.0 M1205.5,704.0 V699.0 M1205.5,411.0 V417.0 M1214.5,704.0 V699.0 M1214.5,411.0 V417.0 M1223.5,704.0 V695.0 M1223.5,411.0 V421.0 M1232.5,704.0 V699.0 M1232.5,411.0 V417.0 M1241.5,704.0 V699.0 M1241.5,411.0 V417.0 M1250.5,704.0 V699.0 M1250.5,411.0 V417.0 M1259.5,704.0 V699.0 M1259.5,411.0 V417.0 M1268.5,704.0 V695.0 M1268.5,411.0 V421.0 M1277.5,704.0 V699.0 M1277.5,411.0 V417.0 M1286.5,704.0 V699.0 M1286.5,411.0 V417.0 M1295.5,704.0 V699.0 M1295.5,411.0 V417.0 M1305.5,704.0 V699.0 M1305.5,411.0 V417.0 M1314.5,704.0 V695.0 M1314.5,411.0 V421.0 M1323.5,704.0 V699.0 M1323.5,411.0 V417.0 M1332.5,704.0 V699.0 M1332.5,411.0 V417.0 M1341.5,704.0 V699.0 M1341.5,411.0 V417.0 M1350.5,704.0 V699.0 M1350.5,411.0 V417.0 M1359.5,704.0 V695.0 M1359.5,411.0 V421.0 M996.5,703.5 H1006.5 M1359.5,703.5 H1349.5 M996.5,694.5 H1001.5 M1359.5,694.5 H1354.5 M996.5,685.5 H1001.5 M1359.5,685.5 H1354.5 M996.5,676.5 H1001.5 M1359.5,676.5 H1354.5 M996.5,667.5 H1001.5 M1359.5,667.5 H1354.5 M996.5,658.5 H1006.5 M1359.5,658.5 H1349.5 M996.5,649.5 H1001.5 M1359.5,649.5 H1354.5 M996.5,640.5 H1001.5 M1359.5,640.5 H1354.5 M996.5,630.5 H1001.5 M1359.5,630.5 H1354.5 M996.5,621.5 H1001.5 M1359.5,621.5 H1354.5 M996.5,612.5 H1006.5 M1359.5,612.5 H1349.5 M996.5,603.5 H1001.5 M1359.5,603.5 H1354.5 M996.5,594.5 H1001.5 M1359.5,594.5 H1354.5 M996.5,585.5 H1001.5 M1359.5,585.5 H1354.5 M996.5,576.5 H1001.5 M1359.5,576.5 H1354.5 M996.5,567.5 H1006.5 M1359.5,567.5 H1349.5 M996.5,558.5 H1001.5 M1359.5,558.5 H1354.5 M996.5,549.5 H1001.5 M1359.5,549.5 H1354.5 M996.5,540.5 H1001.5 M1359.5,540.5 H1354.5 M996.5,531.5 H1001.5 M1359.5,531.5 H1354.5 M996.5,522.5 H1006.5 M1359.5,522.5 H1349.5 M996.5,513.5 H1001.5 M1359.5,513.5 H1354.5 M996.5,503.5 H1001.5 M1359.5,503.5 H1354.5 M996.5,494.5 H1001.5 M1359.5,494.5 H1354.5 M996.5,485.5 H1001.5 M1359.5,485.5 H1354.5 M996.5,476.5 H1006.5 M1359.5,476.5 H1349.5 M996.5,467.5 H1001.5 M1359.5,467.5 H1354.5 M996.5,458.5 H1001.5 M1359.5,458.5 H1354.5 M996.5,449.5 H1001.5 M1359.5,449.5 H1354.5 M996.5,440.5 H1001.5 M1359.5,440.5 H1354.5 M996.5,431.5 H1006.5 M1359.5,431.5 H1349.5 M996.5,422.5 H1001.5 M1359.5,422.5 H1354.5 M996.5,413.5 H1001.5 M1359.5,413.5 H1354.5" stroke="#000" stroke-width="1" fill="none" shape-rendering="crispEdges"/>
<g font-family='"Liberation Serif", serif' font-weight="bold" font-size="17" fill="#000" stroke="#000" stroke-width="0.3"><text x="996.0" y="720.0" text-anchor="middle">-4</text><text x="1041.4" y="720.0" text-anchor="middle">-3</text><text x="1086.8" y="720.0" text-anchor="middle">-2</text><text x="1132.1" y="720.0" text-anchor="middle">-1</text><text x="1177.5" y="720.0" text-anchor="middle">0</text><text x="1222.9" y="720.0" text-anchor="middle">1</text><text x="1268.2" y="720.0" text-anchor="middle">2</text><text x="1313.6" y="720.0" text-anchor="middle">3</text><text x="1359.0" y="720.0" text-anchor="middle">4</text><text x="994.5" y="708.8" text-anchor="end">0</text><text x="994.5" y="663.8" text-anchor="end">50</text><text x="994.5" y="617.8" text-anchor="end">100</text><text x="994.5" y="572.8" text-anchor="end">150</text><text x="994.5" y="527.8" text-anchor="end">200</text><text x="994.5" y="481.8" text-anchor="end">250</text><text x="994.5" y="436.8" text-anchor="end">300</text></g>
<path d="M951,397 H1101 V415 H951 Z" fill="#000" shape-rendering="crispEdges"/>
<rect x="948.5" y="394.5" width="151" height="19" fill="#f2f2f2" stroke="#000" stroke-width="1" shape-rendering="crispEdges"/>
<text x="953.3" y="409" font-family='"Liberation Sans", sans-serif' font-weight="bold" font-size="15" stroke="#000" stroke-width="0.3">D<tspan x="972.3">vertex resolution</tspan></text>
<rect x="964.3" y="397.9" width="3" height="1.3" fill="#000"/>
<rect x="1223.5" y="394.5" width="154" height="154" fill="#fff" stroke="#000" stroke-width="1" shape-rendering="crispEdges"/>
<g font-family='"Liberation Serif", serif' font-weight="bold" font-size="16" fill="#000" stroke="#000" stroke-width="0.3"><text x="1231.0" y="409.6">Entries</text><text x="1368.5" y="409.6" text-anchor="end">2462</text><text x="1231.0" y="428.8">Mean</text><text x="1368.5" y="428.8" text-anchor="end">0.170 <tspan font-weight='normal' stroke-width='0.15'>&#177;</tspan> 0.001</text><text x="1231.0" y="445.9">Sigma</text><text x="1368.5" y="447.9" text-anchor="end">0.280 <tspan font-weight='normal' stroke-width='0.15'>&#177;</tspan> 0.001</text><text x="1231.0" y="465.9"><tspan font-weight='normal' stroke='none' font-size='17'>&#967;</tspan><tspan font-weight='normal' stroke='none' font-size='10' dx='0.8' dy='-6'>2</tspan><tspan dy='6'>/NDF</tspan></text><text x="1368.5" y="467.1" text-anchor="end">4.24</text><text x="1231.0" y="484.9">Probability</text><text x="1368.5" y="486.2" text-anchor="end">0.00</text><text x="1231.0" y="505.4">S / B</text><text x="1368.5" y="505.4" text-anchor="end">13.02 <tspan font-weight='normal' stroke-width='0.15'>&#177;</tspan> 1.02</text><text x="1231.0" y="524.5">N</text><text x="1368.5" y="524.5" text-anchor="end">2572.6 <tspan font-weight='normal' stroke-width='0.15'>&#177;</tspan> 84.2</text><text x="1231.0" y="543.6">FoM</text><text x="1368.5" y="543.6" text-anchor="end">2389.2</text></g>
</svg></body></html>
